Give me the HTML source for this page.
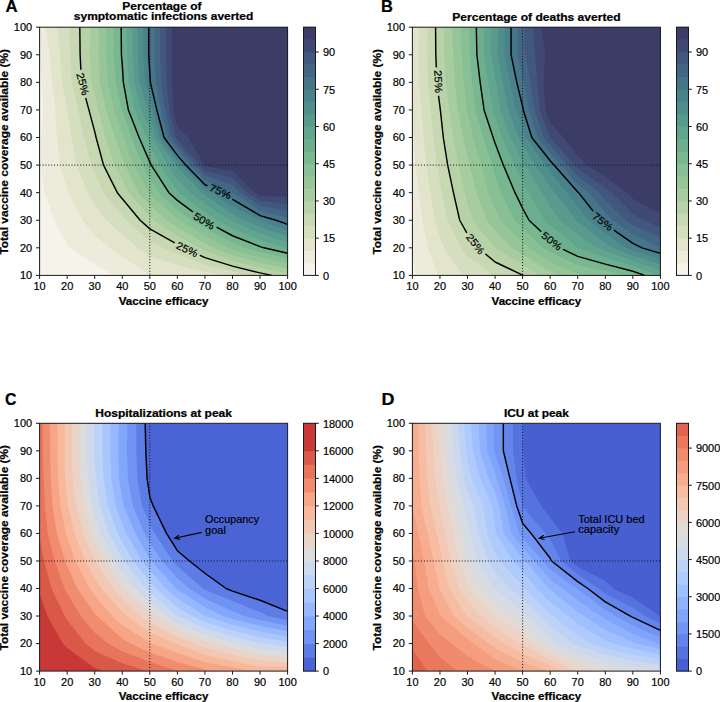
<!DOCTYPE html><html><head><meta charset="utf-8"><style>html,body{margin:0;padding:0;background:#fff;}svg{display:block;font-family:"Liberation Sans", sans-serif;}</style></head><body><svg width="720" height="702" viewBox="0 0 720 702">
<clipPath id="clipA"><rect x="39.60" y="27.20" width="248.00" height="248.20"/></clipPath>
<g clip-path="url(#clipA)">
<rect x="39.60" y="27.20" width="248.00" height="248.20" fill="#f6f3ea"/>
<path d="M94.71 263.99L113.80 275.40L122.27 275.40L149.82 275.40L177.38 275.40L204.93 275.40L232.49 275.40L260.04 275.40L287.60 275.40L287.60 247.82L287.60 220.24L287.60 192.67L287.60 165.09L287.60 137.51L287.60 109.93L287.60 82.36L287.60 54.78L287.60 27.20L260.04 27.20L232.49 27.20L204.93 27.20L177.38 27.20L149.82 27.20L122.27 27.20L94.71 27.20L67.16 27.20L39.60 27.20L39.60 54.78L39.60 57.88L42.06 82.36L43.12 109.93L41.45 137.51L40.71 165.09L44.63 192.67L54.13 220.24L67.16 244.26L69.82 247.82Z" fill="#edebdb"/>
<path d="M122.27 256.51L149.82 275.10L154.16 275.40L177.38 275.40L204.93 275.40L232.49 275.40L260.04 275.40L287.60 275.40L287.60 247.82L287.60 220.24L287.60 192.67L287.60 165.09L287.60 137.51L287.60 109.93L287.60 82.36L287.60 54.78L287.60 27.20L260.04 27.20L232.49 27.20L204.93 27.20L177.38 27.20L149.82 27.20L122.27 27.20L94.71 27.20L67.16 27.20L45.33 27.20L49.71 54.78L51.99 82.36L55.27 109.93L56.88 137.51L60.05 165.09L67.16 188.90L68.28 192.67L82.41 220.24L94.71 234.91L109.00 247.82Z" fill="#e2e4cc"/>
<path d="M149.82 256.62L177.38 265.32L204.93 271.66L222.57 275.40L232.49 275.40L260.04 275.40L287.60 275.40L287.60 247.82L287.60 220.24L287.60 192.67L287.60 165.09L287.60 137.51L287.60 109.93L287.60 82.36L287.60 54.78L287.60 27.20L260.04 27.20L232.49 27.20L204.93 27.20L177.38 27.20L149.82 27.20L122.27 27.20L94.71 27.20L67.16 27.20L57.38 27.20L60.15 54.78L61.91 82.36L67.16 108.86L67.39 109.93L71.36 137.51L76.67 165.09L87.61 192.67L94.71 203.80L106.57 220.24L122.27 234.97L137.92 247.82Z" fill="#d5debe"/>
<path d="M177.38 254.26L204.93 264.67L232.49 271.57L248.27 275.40L260.04 275.40L287.60 275.40L287.60 247.82L287.60 220.24L287.60 192.67L287.60 165.09L287.60 137.51L287.60 109.93L287.60 82.36L287.60 54.78L287.60 27.20L260.04 27.20L232.49 27.20L204.93 27.20L177.38 27.20L149.82 27.20L122.27 27.20L94.71 27.20L69.16 27.20L70.36 54.78L71.76 82.36L78.15 109.93L83.96 137.51L91.71 165.09L94.71 171.70L103.47 192.67L122.27 215.49L126.20 220.24L149.82 241.31L162.87 247.82Z" fill="#c7d8b2"/>
<path d="M204.93 257.67L232.49 266.10L260.04 272.91L271.84 275.40L287.60 275.40L287.60 247.82L287.60 220.24L287.60 192.67L287.60 165.09L287.60 137.51L287.60 109.93L287.60 82.36L287.60 54.78L287.60 27.20L260.04 27.20L232.49 27.20L204.93 27.20L177.38 27.20L149.82 27.20L122.27 27.20L94.71 27.20L79.81 27.20L80.11 54.78L81.51 82.36L88.91 109.93L94.71 131.62L96.09 137.51L103.53 165.09L117.30 192.67L122.27 198.69L140.13 220.24L149.82 228.89L177.38 244.28L183.68 247.82Z" fill="#b7d2a7"/>
<path d="M204.93 250.68L232.49 260.63L260.04 267.71L287.60 273.57L287.60 247.82L287.60 220.24L287.60 192.67L287.60 165.09L287.60 137.51L287.60 109.93L287.60 82.36L287.60 54.78L287.60 27.20L260.04 27.20L232.49 27.20L204.93 27.20L177.38 27.20L149.82 27.20L122.27 27.20L94.71 27.20L90.46 27.20L89.85 54.78L91.26 82.36L94.71 94.34L98.31 109.93L105.46 137.51L114.55 165.09L122.27 179.49L128.68 192.67L149.82 216.78L153.75 220.24L177.38 235.78L198.77 247.82Z" fill="#a7cc9f"/>
<path d="M232.49 255.15L260.04 262.51L287.60 268.51L287.60 247.82L287.60 220.24L287.60 192.67L287.60 165.09L287.60 137.51L287.60 109.93L287.60 82.36L287.60 54.78L287.60 27.20L260.04 27.20L232.49 27.20L204.93 27.20L177.38 27.20L149.82 27.20L122.27 27.20L99.12 27.20L98.53 54.78L99.88 82.36L106.12 109.93L114.84 137.51L122.27 157.52L124.90 165.09L138.68 192.67L149.82 205.37L166.68 220.24L177.38 227.28L204.93 243.37L213.38 247.82Z" fill="#96c598"/>
<path d="M232.49 249.68L260.04 257.31L287.60 263.45L287.60 247.82L287.60 220.24L287.60 192.67L287.60 165.09L287.60 137.51L287.60 109.93L287.60 82.36L287.60 54.78L287.60 27.20L260.04 27.20L232.49 27.20L204.93 27.20L177.38 27.20L149.82 27.20L122.27 27.20L106.47 27.20L106.16 54.78L107.88 82.36L113.94 109.93L122.27 133.00L123.85 137.51L133.71 165.09L148.68 192.67L149.82 193.97L177.38 218.67L179.49 220.24L204.93 235.84L227.65 247.82Z" fill="#89bf94"/>
<path d="M260.04 252.11L287.60 258.39L287.60 247.82L287.60 220.24L287.60 192.67L287.60 165.09L287.60 137.51L287.60 109.93L287.60 82.36L287.60 54.78L287.60 27.20L260.04 27.20L232.49 27.20L204.93 27.20L177.38 27.20L149.82 27.20L122.27 27.20L113.81 27.20L113.80 54.78L115.88 82.36L121.75 109.93L122.27 111.37L131.48 137.51L142.51 165.09L149.82 178.43L158.78 192.67L177.38 209.51L191.77 220.24L204.93 228.31L232.49 243.02L244.75 247.82Z" fill="#79b790"/>
<path d="M287.60 253.33L287.60 247.82L287.60 220.24L287.60 192.67L287.60 165.09L287.60 137.51L287.60 109.93L287.60 82.36L287.60 54.78L287.60 27.20L260.04 27.20L232.49 27.20L204.93 27.20L177.38 27.20L149.82 27.20L122.27 27.20L121.15 27.20L121.43 54.78L122.27 64.50L123.36 82.36L128.35 109.93L139.10 137.51L149.82 162.13L151.22 165.09L168.88 192.67L177.38 200.36L204.05 220.24L204.93 220.79L232.49 235.76L260.04 246.68L263.87 247.82Z" fill="#6dae8f"/>
<path d="M287.60 248.27L287.60 247.82L287.60 220.24L287.60 192.67L287.60 165.09L287.60 137.51L287.60 109.93L287.60 82.36L287.60 54.78L287.60 27.20L260.04 27.20L232.49 27.20L204.93 27.20L177.38 27.20L149.82 27.20L126.89 27.20L127.08 54.78L128.76 82.36L134.86 109.93L146.72 137.51L149.82 144.63L159.46 165.09L177.38 190.78L179.15 192.67L204.93 212.34L217.33 220.24L232.49 228.49L260.04 240.16L285.66 247.82Z" fill="#61a58e"/>
<path d="M232.49 221.23L260.04 233.65L287.60 242.36L287.60 220.24L287.60 192.67L287.60 165.09L287.60 137.51L287.60 109.93L287.60 82.36L287.60 54.78L287.60 27.20L260.04 27.20L232.49 27.20L204.93 27.20L177.38 27.20L149.82 27.20L132.35 27.20L132.48 54.78L134.16 82.36L141.37 109.93L149.82 128.86L152.17 137.51L167.70 165.09L177.38 178.97L190.30 192.67L204.93 203.83L230.68 220.24Z" fill="#589a8d"/>
<path d="M260.04 227.14L287.60 236.37L287.60 220.24L287.60 192.67L287.60 165.09L287.60 137.51L287.60 109.93L287.60 82.36L287.60 54.78L287.60 27.20L260.04 27.20L232.49 27.20L204.93 27.20L177.38 27.20L149.82 27.20L137.80 27.20L137.89 54.78L139.56 82.36L147.88 109.93L149.82 114.28L156.14 137.51L175.94 165.09L177.38 167.15L201.45 192.67L204.93 195.32L232.49 213.94L244.88 220.24Z" fill="#4f8e8d"/>
<path d="M260.04 220.62L287.60 230.38L287.60 220.24L287.60 192.67L287.60 165.09L287.60 137.51L287.60 109.93L287.60 82.36L287.60 54.78L287.60 27.20L260.04 27.20L232.49 27.20L204.93 27.20L177.38 27.20L149.82 27.20L143.25 27.20L143.29 54.78L144.97 82.36L149.82 97.84L152.71 109.93L160.10 137.51L177.38 160.70L181.16 165.09L204.93 189.44L212.21 192.67L232.49 206.65L259.21 220.24Z" fill="#4a828c"/>
<path d="M287.60 224.39L287.60 220.24L287.60 192.67L287.60 165.09L287.60 137.51L287.60 109.93L287.60 82.36L287.60 54.78L287.60 27.20L260.04 27.20L232.49 27.20L204.93 27.20L177.38 27.20L149.82 27.20L148.70 27.20L148.70 54.78L149.82 73.33L150.37 82.36L156.82 109.93L164.07 137.51L177.38 155.37L185.75 165.09L204.93 184.74L222.78 192.67L232.49 199.36L260.04 215.59L275.93 220.24Z" fill="#46758a"/>
<path d="M260.04 210.65L287.60 218.07L287.60 192.67L287.60 165.09L287.60 137.51L287.60 109.93L287.60 82.36L287.60 54.78L287.60 27.20L260.04 27.20L232.49 27.20L204.93 27.20L177.38 27.20L154.46 27.20L154.45 54.78L155.77 82.36L160.93 109.93L168.03 137.51L177.38 150.05L190.33 165.09L204.93 180.04L232.49 192.09L233.09 192.67Z" fill="#436685"/>
<path d="M260.04 205.71L287.60 210.98L287.60 192.67L287.60 165.09L287.60 137.51L287.60 109.93L287.60 82.36L287.60 54.78L287.60 27.20L260.04 27.20L232.49 27.20L204.93 27.20L177.38 27.20L160.29 27.20L160.29 54.78L161.17 82.36L165.04 109.93L172.00 137.51L177.38 144.73L194.92 165.09L204.93 175.35L232.49 185.05L240.50 192.67Z" fill="#41577d"/>
<path d="M260.04 200.77L287.60 203.90L287.60 192.67L287.60 165.09L287.60 137.51L287.60 109.93L287.60 82.36L287.60 54.78L287.60 27.20L260.04 27.20L232.49 27.20L204.93 27.20L177.38 27.20L166.12 27.20L166.13 54.78L166.57 82.36L169.16 109.93L175.96 137.51L177.38 139.41L199.50 165.09L204.93 170.65L232.49 178.00L247.90 192.67Z" fill="#3f4973"/>
<path d="M260.04 195.83L287.60 196.81L287.60 192.67L287.60 165.09L287.60 137.51L287.60 109.93L287.60 82.36L287.60 54.78L287.60 27.20L260.04 27.20L232.49 27.20L204.93 27.20L177.38 27.20L171.95 27.20L171.96 54.78L171.98 82.36L173.27 109.93L177.38 126.71L188.17 137.51L204.09 165.09L204.93 165.95L232.49 170.96L255.31 192.67Z" fill="#3c3d67"/>
<line x1="149.82" y1="27.20" x2="149.82" y2="275.40" stroke="#111" stroke-width="1" stroke-dasharray="1 1.9"/>
<line x1="39.60" y1="165.09" x2="287.60" y2="165.09" stroke="#111" stroke-width="1" stroke-dasharray="1 1.9"/>
<mask id="maskA" maskUnits="userSpaceOnUse" x="0" y="0" width="720" height="702"><rect x="0" y="0" width="720" height="702" fill="#fff"/><rect x="68.60" y="78.00" width="28.40" height="12.00" fill="#000" transform="rotate(74.98 82.80 84.00)"/><rect x="206.30" y="185.50" width="28.00" height="12.00" fill="#000" transform="rotate(23.95 220.30 191.50)"/><rect x="190.00" y="215.00" width="28.00" height="12.00" fill="#000" transform="rotate(31.51 204.00 221.00)"/><rect x="173.10" y="243.40" width="28.00" height="12.00" fill="#000" transform="rotate(24.86 187.10 249.40)"/></mask>
<g mask="url(#maskA)">
<path d="M79.81 27.20 L80.11 54.78 L81.51 82.36 L88.91 109.93 L94.71 131.62 L96.09 137.51 L103.53 165.09 L117.30 192.67 L122.27 198.69 L140.13 220.24 L149.82 228.89 L177.38 244.28 L183.68 247.82 L204.93 257.67 L232.49 266.10 L260.04 272.91 L271.84 275.40" fill="none" stroke="#000" stroke-width="1.45" stroke-linejoin="round"/>
<path d="M121.15 27.20 L121.43 54.78 L122.27 64.50 L123.36 82.36 L128.35 109.93 L139.10 137.51 L149.82 162.13 L151.22 165.09 L168.88 192.67 L177.38 200.36 L204.05 220.24 L204.93 220.79 L232.49 235.76 L260.04 246.68 L263.87 247.82 L287.60 253.33" fill="none" stroke="#000" stroke-width="1.45" stroke-linejoin="round"/>
<path d="M148.70 27.20 L148.70 54.78 L149.82 73.33 L150.37 82.36 L156.82 109.93 L164.07 137.51 L177.38 155.37 L185.75 165.09 L204.93 184.74 L222.78 192.67 L232.49 199.36 L260.04 215.59 L275.93 220.24 L287.60 224.39" fill="none" stroke="#000" stroke-width="1.45" stroke-linejoin="round"/>
</g>
</g>
<g transform="translate(82.80 84.00) rotate(74.98)"><text x="0.00" y="3.70" font-size="10.50" stroke="#000" stroke-width="0.18" text-anchor="middle" textLength="22.67" lengthAdjust="spacingAndGlyphs">25%</text></g>
<g transform="translate(220.30 191.50) rotate(23.95)"><text x="0.00" y="3.70" font-size="10.50" stroke="#000" stroke-width="0.18" text-anchor="middle" textLength="22.67" lengthAdjust="spacingAndGlyphs">75%</text></g>
<g transform="translate(204.00 221.00) rotate(31.51)"><text x="0.00" y="3.70" font-size="10.50" stroke="#000" stroke-width="0.18" text-anchor="middle" textLength="22.67" lengthAdjust="spacingAndGlyphs">50%</text></g>
<g transform="translate(187.10 249.40) rotate(24.86)"><text x="0.00" y="3.70" font-size="10.50" stroke="#000" stroke-width="0.18" text-anchor="middle" textLength="22.67" lengthAdjust="spacingAndGlyphs">25%</text></g>
<rect x="39.60" y="27.20" width="248.00" height="248.20" fill="none" stroke="#1a1a1a" stroke-width="1"/>
<line x1="39.60" y1="275.40" x2="39.60" y2="278.90" stroke="#1a1a1a" stroke-width="1"/>
<line x1="36.00" y1="275.40" x2="39.60" y2="275.40" stroke="#1a1a1a" stroke-width="1"/>
<text x="39.60" y="290.20" font-size="10.20" stroke="#000" stroke-width="0.18" text-anchor="middle" textLength="12.22" lengthAdjust="spacingAndGlyphs">10</text>
<text x="32.20" y="279.30" font-size="10.20" stroke="#000" stroke-width="0.18" text-anchor="end" textLength="12.22" lengthAdjust="spacingAndGlyphs">10</text>
<line x1="67.16" y1="275.40" x2="67.16" y2="278.90" stroke="#1a1a1a" stroke-width="1"/>
<line x1="36.00" y1="247.82" x2="39.60" y2="247.82" stroke="#1a1a1a" stroke-width="1"/>
<text x="67.16" y="290.20" font-size="10.20" stroke="#000" stroke-width="0.18" text-anchor="middle" textLength="12.22" lengthAdjust="spacingAndGlyphs">20</text>
<text x="32.20" y="251.72" font-size="10.20" stroke="#000" stroke-width="0.18" text-anchor="end" textLength="12.22" lengthAdjust="spacingAndGlyphs">20</text>
<line x1="94.71" y1="275.40" x2="94.71" y2="278.90" stroke="#1a1a1a" stroke-width="1"/>
<line x1="36.00" y1="220.24" x2="39.60" y2="220.24" stroke="#1a1a1a" stroke-width="1"/>
<text x="94.71" y="290.20" font-size="10.20" stroke="#000" stroke-width="0.18" text-anchor="middle" textLength="12.22" lengthAdjust="spacingAndGlyphs">30</text>
<text x="32.20" y="224.14" font-size="10.20" stroke="#000" stroke-width="0.18" text-anchor="end" textLength="12.22" lengthAdjust="spacingAndGlyphs">30</text>
<line x1="122.27" y1="275.40" x2="122.27" y2="278.90" stroke="#1a1a1a" stroke-width="1"/>
<line x1="36.00" y1="192.67" x2="39.60" y2="192.67" stroke="#1a1a1a" stroke-width="1"/>
<text x="122.27" y="290.20" font-size="10.20" stroke="#000" stroke-width="0.18" text-anchor="middle" textLength="12.22" lengthAdjust="spacingAndGlyphs">40</text>
<text x="32.20" y="196.57" font-size="10.20" stroke="#000" stroke-width="0.18" text-anchor="end" textLength="12.22" lengthAdjust="spacingAndGlyphs">40</text>
<line x1="149.82" y1="275.40" x2="149.82" y2="278.90" stroke="#1a1a1a" stroke-width="1"/>
<line x1="36.00" y1="165.09" x2="39.60" y2="165.09" stroke="#1a1a1a" stroke-width="1"/>
<text x="149.82" y="290.20" font-size="10.20" stroke="#000" stroke-width="0.18" text-anchor="middle" textLength="12.22" lengthAdjust="spacingAndGlyphs">50</text>
<text x="32.20" y="168.99" font-size="10.20" stroke="#000" stroke-width="0.18" text-anchor="end" textLength="12.22" lengthAdjust="spacingAndGlyphs">50</text>
<line x1="177.38" y1="275.40" x2="177.38" y2="278.90" stroke="#1a1a1a" stroke-width="1"/>
<line x1="36.00" y1="137.51" x2="39.60" y2="137.51" stroke="#1a1a1a" stroke-width="1"/>
<text x="177.38" y="290.20" font-size="10.20" stroke="#000" stroke-width="0.18" text-anchor="middle" textLength="12.22" lengthAdjust="spacingAndGlyphs">60</text>
<text x="32.20" y="141.41" font-size="10.20" stroke="#000" stroke-width="0.18" text-anchor="end" textLength="12.22" lengthAdjust="spacingAndGlyphs">60</text>
<line x1="204.93" y1="275.40" x2="204.93" y2="278.90" stroke="#1a1a1a" stroke-width="1"/>
<line x1="36.00" y1="109.93" x2="39.60" y2="109.93" stroke="#1a1a1a" stroke-width="1"/>
<text x="204.93" y="290.20" font-size="10.20" stroke="#000" stroke-width="0.18" text-anchor="middle" textLength="12.22" lengthAdjust="spacingAndGlyphs">70</text>
<text x="32.20" y="113.83" font-size="10.20" stroke="#000" stroke-width="0.18" text-anchor="end" textLength="12.22" lengthAdjust="spacingAndGlyphs">70</text>
<line x1="232.49" y1="275.40" x2="232.49" y2="278.90" stroke="#1a1a1a" stroke-width="1"/>
<line x1="36.00" y1="82.36" x2="39.60" y2="82.36" stroke="#1a1a1a" stroke-width="1"/>
<text x="232.49" y="290.20" font-size="10.20" stroke="#000" stroke-width="0.18" text-anchor="middle" textLength="12.22" lengthAdjust="spacingAndGlyphs">80</text>
<text x="32.20" y="86.26" font-size="10.20" stroke="#000" stroke-width="0.18" text-anchor="end" textLength="12.22" lengthAdjust="spacingAndGlyphs">80</text>
<line x1="260.04" y1="275.40" x2="260.04" y2="278.90" stroke="#1a1a1a" stroke-width="1"/>
<line x1="36.00" y1="54.78" x2="39.60" y2="54.78" stroke="#1a1a1a" stroke-width="1"/>
<text x="260.04" y="290.20" font-size="10.20" stroke="#000" stroke-width="0.18" text-anchor="middle" textLength="12.22" lengthAdjust="spacingAndGlyphs">90</text>
<text x="32.20" y="58.68" font-size="10.20" stroke="#000" stroke-width="0.18" text-anchor="end" textLength="12.22" lengthAdjust="spacingAndGlyphs">90</text>
<line x1="287.60" y1="275.40" x2="287.60" y2="278.90" stroke="#1a1a1a" stroke-width="1"/>
<line x1="36.00" y1="27.20" x2="39.60" y2="27.20" stroke="#1a1a1a" stroke-width="1"/>
<text x="287.60" y="290.20" font-size="10.20" stroke="#000" stroke-width="0.18" text-anchor="middle" textLength="18.32" lengthAdjust="spacingAndGlyphs">100</text>
<text x="32.20" y="31.10" font-size="10.20" stroke="#000" stroke-width="0.18" text-anchor="end" textLength="18.32" lengthAdjust="spacingAndGlyphs">100</text>
<text x="163.60" y="304.50" font-size="10.40" font-weight="bold" stroke="#000" stroke-width="0.22" text-anchor="middle" textLength="89.67" lengthAdjust="spacingAndGlyphs">Vaccine efficacy</text>
<text x="8.30" y="151.80" font-size="10.40" font-weight="bold" stroke="#000" stroke-width="0.22" text-anchor="middle" textLength="205.57" lengthAdjust="spacingAndGlyphs" transform="rotate(-90.00 8.30 151.80)">Total vaccine coverage available (%)</text>
<text x="161.90" y="10.00" font-size="10.40" font-weight="bold" stroke="#000" stroke-width="0.22" text-anchor="middle" textLength="79.04" lengthAdjust="spacingAndGlyphs">Percentage of</text>
<text x="163.60" y="20.30" font-size="10.40" font-weight="bold" stroke="#000" stroke-width="0.22" text-anchor="middle" textLength="179.43" lengthAdjust="spacingAndGlyphs">symptomatic infections averted</text>
<rect x="303.50" y="262.69" width="12.00" height="13.01" fill="#f6f3ea"/>
<rect x="303.50" y="250.28" width="12.00" height="13.01" fill="#edebdb"/>
<rect x="303.50" y="237.87" width="12.00" height="13.01" fill="#e2e4cc"/>
<rect x="303.50" y="225.46" width="12.00" height="13.01" fill="#d5debe"/>
<rect x="303.50" y="213.05" width="12.00" height="13.01" fill="#c7d8b2"/>
<rect x="303.50" y="200.64" width="12.00" height="13.01" fill="#b7d2a7"/>
<rect x="303.50" y="188.23" width="12.00" height="13.01" fill="#a7cc9f"/>
<rect x="303.50" y="175.82" width="12.00" height="13.01" fill="#96c598"/>
<rect x="303.50" y="163.41" width="12.00" height="13.01" fill="#89bf94"/>
<rect x="303.50" y="151.00" width="12.00" height="13.01" fill="#79b790"/>
<rect x="303.50" y="138.59" width="12.00" height="13.01" fill="#6dae8f"/>
<rect x="303.50" y="126.18" width="12.00" height="13.01" fill="#61a58e"/>
<rect x="303.50" y="113.77" width="12.00" height="13.01" fill="#589a8d"/>
<rect x="303.50" y="101.36" width="12.00" height="13.01" fill="#4f8e8d"/>
<rect x="303.50" y="88.95" width="12.00" height="13.01" fill="#4a828c"/>
<rect x="303.50" y="76.54" width="12.00" height="13.01" fill="#46758a"/>
<rect x="303.50" y="64.13" width="12.00" height="13.01" fill="#436685"/>
<rect x="303.50" y="51.72" width="12.00" height="13.01" fill="#41577d"/>
<rect x="303.50" y="39.31" width="12.00" height="13.01" fill="#3f4973"/>
<rect x="303.50" y="26.90" width="12.00" height="13.01" fill="#3c3d67"/>
<rect x="303.50" y="27.20" width="12.00" height="248.20" fill="none" stroke="#1a1a1a" stroke-width="1"/>
<line x1="315.50" y1="275.40" x2="318.80" y2="275.40" stroke="#1a1a1a" stroke-width="1"/>
<text x="322.90" y="279.70" font-size="10.20" stroke="#000" stroke-width="0.18" textLength="6.11" lengthAdjust="spacingAndGlyphs">0</text>
<line x1="315.50" y1="238.17" x2="318.80" y2="238.17" stroke="#1a1a1a" stroke-width="1"/>
<text x="322.90" y="242.47" font-size="10.20" stroke="#000" stroke-width="0.18" textLength="12.22" lengthAdjust="spacingAndGlyphs">15</text>
<line x1="315.50" y1="200.94" x2="318.80" y2="200.94" stroke="#1a1a1a" stroke-width="1"/>
<text x="322.90" y="205.24" font-size="10.20" stroke="#000" stroke-width="0.18" textLength="12.22" lengthAdjust="spacingAndGlyphs">30</text>
<line x1="315.50" y1="163.71" x2="318.80" y2="163.71" stroke="#1a1a1a" stroke-width="1"/>
<text x="322.90" y="168.01" font-size="10.20" stroke="#000" stroke-width="0.18" textLength="12.22" lengthAdjust="spacingAndGlyphs">45</text>
<line x1="315.50" y1="126.48" x2="318.80" y2="126.48" stroke="#1a1a1a" stroke-width="1"/>
<text x="322.90" y="130.78" font-size="10.20" stroke="#000" stroke-width="0.18" textLength="12.22" lengthAdjust="spacingAndGlyphs">60</text>
<line x1="315.50" y1="89.25" x2="318.80" y2="89.25" stroke="#1a1a1a" stroke-width="1"/>
<text x="322.90" y="93.55" font-size="10.20" stroke="#000" stroke-width="0.18" textLength="12.22" lengthAdjust="spacingAndGlyphs">75</text>
<line x1="315.50" y1="52.02" x2="318.80" y2="52.02" stroke="#1a1a1a" stroke-width="1"/>
<text x="322.90" y="56.32" font-size="10.20" stroke="#000" stroke-width="0.18" textLength="12.22" lengthAdjust="spacingAndGlyphs">90</text>
<clipPath id="clipB"><rect x="412.40" y="27.20" width="248.00" height="248.20"/></clipPath>
<g clip-path="url(#clipB)">
<rect x="412.40" y="27.20" width="248.00" height="248.20" fill="#f6f3ea"/>
<path d="M439.96 275.40L467.51 275.40L495.07 275.40L522.62 275.40L550.18 275.40L577.73 275.40L605.29 275.40L632.84 275.40L660.40 275.40L660.40 247.82L660.40 220.24L660.40 192.67L660.40 165.09L660.40 137.51L660.40 109.93L660.40 82.36L660.40 54.78L660.40 27.20L632.84 27.20L605.29 27.20L577.73 27.20L550.18 27.20L522.62 27.20L495.07 27.20L467.51 27.20L439.96 27.20L412.40 27.20L412.40 54.78L412.40 82.36L412.40 109.93L412.40 137.51L412.40 165.09L412.40 192.67L412.40 220.24L412.40 247.82L412.40 254.32L415.95 275.40Z" fill="#edebdb"/>
<path d="M439.96 275.40L467.51 275.40L495.07 275.40L522.62 275.40L550.18 275.40L577.73 275.40L605.29 275.40L632.84 275.40L660.40 275.40L660.40 247.82L660.40 220.24L660.40 192.67L660.40 165.09L660.40 137.51L660.40 109.93L660.40 82.36L660.40 54.78L660.40 27.20L632.84 27.20L605.29 27.20L577.73 27.20L550.18 27.20L522.62 27.20L495.07 27.20L467.51 27.20L439.96 27.20L412.40 27.20L412.40 54.78L412.40 82.36L412.40 109.93L412.40 119.38L413.54 137.51L415.74 165.09L418.90 192.67L422.22 220.24L427.73 247.82L438.00 275.40Z" fill="#e2e4cc"/>
<path d="M467.51 275.40L495.07 275.40L522.62 275.40L550.18 275.40L577.73 275.40L605.29 275.40L632.84 275.40L660.40 275.40L660.40 247.82L660.40 220.24L660.40 192.67L660.40 165.09L660.40 137.51L660.40 109.93L660.40 82.36L660.40 54.78L660.40 27.20L632.84 27.20L605.29 27.20L577.73 27.20L550.18 27.20L522.62 27.20L495.07 27.20L467.51 27.20L439.96 27.20L419.32 27.20L418.67 54.78L419.13 82.36L421.34 109.93L423.46 137.51L426.30 165.09L430.53 192.67L434.94 220.24L439.96 237.32L444.11 247.82L463.14 275.40Z" fill="#d5debe"/>
<path d="M467.51 256.28L493.34 275.40L495.07 275.40L522.62 275.40L550.18 275.40L577.73 275.40L605.29 275.40L632.84 275.40L660.40 275.40L660.40 247.82L660.40 220.24L660.40 192.67L660.40 165.09L660.40 137.51L660.40 109.93L660.40 82.36L660.40 54.78L660.40 27.20L632.84 27.20L605.29 27.20L577.73 27.20L550.18 27.20L522.62 27.20L495.07 27.20L467.51 27.20L439.96 27.20L427.44 27.20L427.24 54.78L427.96 82.36L430.86 109.93L433.37 137.51L436.86 165.09L439.96 181.80L442.11 192.67L447.42 220.24L461.24 247.82Z" fill="#c7d8b2"/>
<path d="M495.07 262.02L522.62 275.06L523.16 275.40L550.18 275.40L577.73 275.40L605.29 275.40L632.84 275.40L660.40 275.40L660.40 247.82L660.40 220.24L660.40 192.67L660.40 165.09L660.40 137.51L660.40 109.93L660.40 82.36L660.40 54.78L660.40 27.20L632.84 27.20L605.29 27.20L577.73 27.20L550.18 27.20L522.62 27.20L495.07 27.20L467.51 27.20L439.96 27.20L435.56 27.20L435.82 54.78L436.80 82.36L439.96 106.94L440.34 109.93L443.31 137.51L447.67 165.09L453.45 192.67L459.72 220.24L467.51 234.02L478.18 247.82Z" fill="#b7d2a7"/>
<path d="M495.07 247.86L522.62 264.78L539.52 275.40L550.18 275.40L577.73 275.40L605.29 275.40L632.84 275.40L660.40 275.40L660.40 247.82L660.40 220.24L660.40 192.67L660.40 165.09L660.40 137.51L660.40 109.93L660.40 82.36L660.40 54.78L660.40 27.20L632.84 27.20L605.29 27.20L577.73 27.20L550.18 27.20L522.62 27.20L495.07 27.20L467.51 27.20L443.82 27.20L444.44 54.78L445.75 82.36L449.15 109.93L453.28 137.51L458.59 165.09L464.78 192.67L467.51 203.60L472.69 220.24L495.03 247.82Z" fill="#a7cc9f"/>
<path d="M522.62 254.50L550.18 271.98L558.33 275.40L577.73 275.40L605.29 275.40L632.84 275.40L660.40 275.40L660.40 247.82L660.40 220.24L660.40 192.67L660.40 165.09L660.40 137.51L660.40 109.93L660.40 82.36L660.40 54.78L660.40 27.20L632.84 27.20L605.29 27.20L577.73 27.20L550.18 27.20L522.62 27.20L495.07 27.20L467.51 27.20L452.25 27.20L453.11 54.78L454.76 82.36L457.96 109.93L463.25 137.51L467.51 156.81L469.59 165.09L476.47 192.67L486.81 220.24L495.07 230.43L511.75 247.82Z" fill="#96c598"/>
<path d="M550.18 262.14L577.73 273.90L587.46 275.40L605.29 275.40L632.84 275.40L660.40 275.40L660.40 247.82L660.40 220.24L660.40 192.67L660.40 165.09L660.40 137.51L660.40 109.93L660.40 82.36L660.40 54.78L660.40 27.20L632.84 27.20L605.29 27.20L577.73 27.20L550.18 27.20L522.62 27.20L495.07 27.20L467.51 27.20L460.68 27.20L461.79 54.78L463.78 82.36L466.78 109.93L467.51 113.44L473.22 137.51L480.91 165.09L488.28 192.67L495.07 208.68L500.78 220.24L522.62 242.84L527.97 247.82Z" fill="#89bf94"/>
<path d="M550.18 252.30L577.73 265.16L605.29 270.83L626.28 275.40L632.84 275.40L660.40 275.40L660.40 247.82L660.40 220.24L660.40 192.67L660.40 165.09L660.40 137.51L660.40 109.93L660.40 82.36L660.40 54.78L660.40 27.20L632.84 27.20L605.29 27.20L577.73 27.20L550.18 27.20L522.62 27.20L495.07 27.20L468.92 27.20L469.89 54.78L472.19 82.36L475.43 109.93L483.18 137.51L492.24 165.09L495.07 175.30L501.02 192.67L514.55 220.24L522.62 228.60L543.23 247.82Z" fill="#79b790"/>
<path d="M577.73 256.42L605.29 264.17L632.84 271.31L644.69 275.40L660.40 275.40L660.40 247.82L660.40 220.24L660.40 192.67L660.40 165.09L660.40 137.51L660.40 109.93L660.40 82.36L660.40 54.78L660.40 27.20L632.84 27.20L605.29 27.20L577.73 27.20L550.18 27.20L522.62 27.20L495.07 27.20L476.32 27.20L476.87 54.78L480.18 82.36L484.06 109.93L493.14 137.51L495.07 143.17L503.32 165.09L515.02 192.67L522.62 208.32L529.02 220.24L550.18 239.97L559.99 247.82Z" fill="#6dae8f"/>
<path d="M605.29 257.50L632.84 266.09L659.77 275.40L660.40 275.40L660.40 247.82L660.40 220.24L660.40 192.67L660.40 165.09L660.40 137.51L660.40 109.93L660.40 82.36L660.40 54.78L660.40 27.20L632.84 27.20L605.29 27.20L577.73 27.20L550.18 27.20L522.62 27.20L495.07 27.20L483.73 27.20L483.85 54.78L488.17 82.36L492.70 109.93L495.07 116.93L501.82 137.51L514.33 165.09L522.62 182.25L528.70 192.67L544.49 220.24L550.18 225.54L577.73 247.62L578.03 247.82Z" fill="#61a58e"/>
<path d="M605.29 250.84L632.84 260.88L660.40 270.06L660.40 247.82L660.40 220.24L660.40 192.67L660.40 165.09L660.40 137.51L660.40 109.93L660.40 82.36L660.40 54.78L660.40 27.20L632.84 27.20L605.29 27.20L577.73 27.20L550.18 27.20L522.62 27.20L495.07 27.20L491.14 27.20L490.84 54.78L495.07 77.27L496.01 82.36L500.61 109.93L510.19 137.51L522.62 161.17L525.14 165.09L542.00 192.67L550.18 206.26L560.32 220.24L577.73 234.50L596.79 247.82Z" fill="#589a8d"/>
<path d="M632.84 255.67L660.40 264.48L660.40 247.82L660.40 220.24L660.40 192.67L660.40 165.09L660.40 137.51L660.40 109.93L660.40 82.36L660.40 54.78L660.40 27.20L632.84 27.20L605.29 27.20L577.73 27.20L550.18 27.20L522.62 27.20L498.10 27.20L497.70 54.78L502.94 82.36L508.26 109.93L518.56 137.51L522.62 145.23L535.40 165.09L550.18 186.86L554.77 192.67L576.35 220.24L577.73 221.38L605.29 242.74L612.63 247.82Z" fill="#4f8e8d"/>
<path d="M632.84 250.46L660.40 258.91L660.40 247.82L660.40 220.24L660.40 192.67L660.40 165.09L660.40 137.51L660.40 109.93L660.40 82.36L660.40 54.78L660.40 27.20L632.84 27.20L605.29 27.20L577.73 27.20L550.18 27.20L522.62 27.20L504.56 27.20L504.38 54.78L509.87 82.36L515.90 109.93L522.62 127.32L525.74 137.51L545.65 165.09L550.18 171.76L566.72 192.67L577.73 206.51L588.51 220.24L605.29 233.45L626.05 247.82Z" fill="#4a828c"/>
<path d="M660.40 253.33L660.40 247.82L660.40 220.24L660.40 192.67L660.40 165.09L660.40 137.51L660.40 109.93L660.40 82.36L660.40 54.78L660.40 27.20L632.84 27.20L605.29 27.20L577.73 27.20L550.18 27.20L522.62 27.20L511.02 27.20L511.07 54.78L516.80 82.36L522.62 106.49L523.29 109.93L531.79 137.51L550.18 160.81L553.98 165.09L577.73 192.06L578.55 192.67L600.31 220.24L605.29 224.16L632.84 243.36L642.02 247.82Z" fill="#46758a"/>
<path d="M632.84 234.32L660.40 247.71L660.40 220.24L660.40 192.67L660.40 165.09L660.40 137.51L660.40 109.93L660.40 82.36L660.40 54.78L660.40 27.20L632.84 27.20L605.29 27.20L577.73 27.20L550.18 27.20L522.62 27.20L517.49 27.20L517.75 54.78L522.62 77.41L523.68 82.36L528.83 109.93L537.83 137.51L550.18 153.15L560.80 165.09L577.73 184.32L588.94 192.67L605.29 212.83L612.75 220.24Z" fill="#436685"/>
<path d="M632.84 225.28L660.40 237.57L660.40 220.24L660.40 192.67L660.40 165.09L660.40 137.51L660.40 109.93L660.40 82.36L660.40 54.78L660.40 27.20L632.84 27.20L605.29 27.20L577.73 27.20L550.18 27.20L524.40 27.20L525.30 54.78L530.30 82.36L534.37 109.93L543.88 137.51L550.18 145.49L567.61 165.09L577.73 176.58L599.33 192.67L605.29 200.02L625.65 220.24Z" fill="#41577d"/>
<path d="M660.40 227.44L660.40 220.24L660.40 192.67L660.40 165.09L660.40 137.51L660.40 109.93L660.40 82.36L660.40 54.78L660.40 27.20L632.84 27.20L605.29 27.20L577.73 27.20L550.18 27.20L533.07 27.20L535.18 54.78L536.93 82.36L539.92 109.93L549.93 137.51L550.18 137.83L574.43 165.09L577.73 168.84L605.29 187.82L611.71 192.67L632.84 213.64L643.43 220.24Z" fill="#3f4973"/>
<path d="M632.84 198.71L660.40 214.05L660.40 192.67L660.40 165.09L660.40 137.51L660.40 109.93L660.40 82.36L660.40 54.78L660.40 27.20L632.84 27.20L605.29 27.20L577.73 27.20L550.18 27.20L541.73 27.20L545.06 54.78L543.55 82.36L545.46 109.93L550.18 122.90L563.67 137.51L577.73 155.71L587.10 165.09L605.29 176.45L626.75 192.67Z" fill="#3c3d67"/>
<line x1="522.62" y1="27.20" x2="522.62" y2="275.40" stroke="#111" stroke-width="1" stroke-dasharray="1 1.9"/>
<line x1="412.40" y1="165.09" x2="660.40" y2="165.09" stroke="#111" stroke-width="1" stroke-dasharray="1 1.9"/>
<mask id="maskB" maskUnits="userSpaceOnUse" x="0" y="0" width="720" height="702"><rect x="0" y="0" width="720" height="702" fill="#fff"/><rect x="424.10" y="75.50" width="28.40" height="12.00" fill="#000" transform="rotate(87.96 438.30 81.50)"/><rect x="461.40" y="237.90" width="28.00" height="12.00" fill="#000" transform="rotate(52.28 475.40 243.90)"/><rect x="537.70" y="235.00" width="28.00" height="12.00" fill="#000" transform="rotate(38.67 551.70 241.00)"/><rect x="588.70" y="215.60" width="28.00" height="12.00" fill="#000" transform="rotate(38.22 602.70 221.60)"/></mask>
<g mask="url(#maskB)">
<path d="M435.56 27.20 L435.82 54.78 L436.80 82.36 L439.96 106.94 L440.34 109.93 L443.31 137.51 L447.67 165.09 L453.45 192.67 L459.72 220.24 L467.51 234.02 L478.18 247.82 L495.07 262.02 L522.62 275.06 L523.16 275.40" fill="none" stroke="#000" stroke-width="1.45" stroke-linejoin="round"/>
<path d="M476.32 27.20 L476.87 54.78 L480.18 82.36 L484.06 109.93 L493.14 137.51 L495.07 143.17 L503.32 165.09 L515.02 192.67 L522.62 208.32 L529.02 220.24 L550.18 239.97 L559.99 247.82 L577.73 256.42 L605.29 264.17 L632.84 271.31 L644.69 275.40" fill="none" stroke="#000" stroke-width="1.45" stroke-linejoin="round"/>
<path d="M511.02 27.20 L511.07 54.78 L516.80 82.36 L522.62 106.49 L523.29 109.93 L531.79 137.51 L550.18 160.81 L553.98 165.09 L577.73 192.06 L578.55 192.67 L600.31 220.24 L605.29 224.16 L632.84 243.36 L642.02 247.82 L660.40 253.33" fill="none" stroke="#000" stroke-width="1.45" stroke-linejoin="round"/>
</g>
</g>
<g transform="translate(438.30 81.50) rotate(87.96)"><text x="0.00" y="3.70" font-size="10.50" stroke="#000" stroke-width="0.18" text-anchor="middle" textLength="22.67" lengthAdjust="spacingAndGlyphs">25%</text></g>
<g transform="translate(475.40 243.90) rotate(52.28)"><text x="0.00" y="3.70" font-size="10.50" stroke="#000" stroke-width="0.18" text-anchor="middle" textLength="22.67" lengthAdjust="spacingAndGlyphs">25%</text></g>
<g transform="translate(551.70 241.00) rotate(38.67)"><text x="0.00" y="3.70" font-size="10.50" stroke="#000" stroke-width="0.18" text-anchor="middle" textLength="22.67" lengthAdjust="spacingAndGlyphs">50%</text></g>
<g transform="translate(602.70 221.60) rotate(38.22)"><text x="0.00" y="3.70" font-size="10.50" stroke="#000" stroke-width="0.18" text-anchor="middle" textLength="22.67" lengthAdjust="spacingAndGlyphs">75%</text></g>
<rect x="412.40" y="27.20" width="248.00" height="248.20" fill="none" stroke="#1a1a1a" stroke-width="1"/>
<line x1="412.40" y1="275.40" x2="412.40" y2="278.90" stroke="#1a1a1a" stroke-width="1"/>
<line x1="408.80" y1="275.40" x2="412.40" y2="275.40" stroke="#1a1a1a" stroke-width="1"/>
<text x="412.40" y="290.20" font-size="10.20" stroke="#000" stroke-width="0.18" text-anchor="middle" textLength="12.22" lengthAdjust="spacingAndGlyphs">10</text>
<text x="405.00" y="279.30" font-size="10.20" stroke="#000" stroke-width="0.18" text-anchor="end" textLength="12.22" lengthAdjust="spacingAndGlyphs">10</text>
<line x1="439.96" y1="275.40" x2="439.96" y2="278.90" stroke="#1a1a1a" stroke-width="1"/>
<line x1="408.80" y1="247.82" x2="412.40" y2="247.82" stroke="#1a1a1a" stroke-width="1"/>
<text x="439.96" y="290.20" font-size="10.20" stroke="#000" stroke-width="0.18" text-anchor="middle" textLength="12.22" lengthAdjust="spacingAndGlyphs">20</text>
<text x="405.00" y="251.72" font-size="10.20" stroke="#000" stroke-width="0.18" text-anchor="end" textLength="12.22" lengthAdjust="spacingAndGlyphs">20</text>
<line x1="467.51" y1="275.40" x2="467.51" y2="278.90" stroke="#1a1a1a" stroke-width="1"/>
<line x1="408.80" y1="220.24" x2="412.40" y2="220.24" stroke="#1a1a1a" stroke-width="1"/>
<text x="467.51" y="290.20" font-size="10.20" stroke="#000" stroke-width="0.18" text-anchor="middle" textLength="12.22" lengthAdjust="spacingAndGlyphs">30</text>
<text x="405.00" y="224.14" font-size="10.20" stroke="#000" stroke-width="0.18" text-anchor="end" textLength="12.22" lengthAdjust="spacingAndGlyphs">30</text>
<line x1="495.07" y1="275.40" x2="495.07" y2="278.90" stroke="#1a1a1a" stroke-width="1"/>
<line x1="408.80" y1="192.67" x2="412.40" y2="192.67" stroke="#1a1a1a" stroke-width="1"/>
<text x="495.07" y="290.20" font-size="10.20" stroke="#000" stroke-width="0.18" text-anchor="middle" textLength="12.22" lengthAdjust="spacingAndGlyphs">40</text>
<text x="405.00" y="196.57" font-size="10.20" stroke="#000" stroke-width="0.18" text-anchor="end" textLength="12.22" lengthAdjust="spacingAndGlyphs">40</text>
<line x1="522.62" y1="275.40" x2="522.62" y2="278.90" stroke="#1a1a1a" stroke-width="1"/>
<line x1="408.80" y1="165.09" x2="412.40" y2="165.09" stroke="#1a1a1a" stroke-width="1"/>
<text x="522.62" y="290.20" font-size="10.20" stroke="#000" stroke-width="0.18" text-anchor="middle" textLength="12.22" lengthAdjust="spacingAndGlyphs">50</text>
<text x="405.00" y="168.99" font-size="10.20" stroke="#000" stroke-width="0.18" text-anchor="end" textLength="12.22" lengthAdjust="spacingAndGlyphs">50</text>
<line x1="550.18" y1="275.40" x2="550.18" y2="278.90" stroke="#1a1a1a" stroke-width="1"/>
<line x1="408.80" y1="137.51" x2="412.40" y2="137.51" stroke="#1a1a1a" stroke-width="1"/>
<text x="550.18" y="290.20" font-size="10.20" stroke="#000" stroke-width="0.18" text-anchor="middle" textLength="12.22" lengthAdjust="spacingAndGlyphs">60</text>
<text x="405.00" y="141.41" font-size="10.20" stroke="#000" stroke-width="0.18" text-anchor="end" textLength="12.22" lengthAdjust="spacingAndGlyphs">60</text>
<line x1="577.73" y1="275.40" x2="577.73" y2="278.90" stroke="#1a1a1a" stroke-width="1"/>
<line x1="408.80" y1="109.93" x2="412.40" y2="109.93" stroke="#1a1a1a" stroke-width="1"/>
<text x="577.73" y="290.20" font-size="10.20" stroke="#000" stroke-width="0.18" text-anchor="middle" textLength="12.22" lengthAdjust="spacingAndGlyphs">70</text>
<text x="405.00" y="113.83" font-size="10.20" stroke="#000" stroke-width="0.18" text-anchor="end" textLength="12.22" lengthAdjust="spacingAndGlyphs">70</text>
<line x1="605.29" y1="275.40" x2="605.29" y2="278.90" stroke="#1a1a1a" stroke-width="1"/>
<line x1="408.80" y1="82.36" x2="412.40" y2="82.36" stroke="#1a1a1a" stroke-width="1"/>
<text x="605.29" y="290.20" font-size="10.20" stroke="#000" stroke-width="0.18" text-anchor="middle" textLength="12.22" lengthAdjust="spacingAndGlyphs">80</text>
<text x="405.00" y="86.26" font-size="10.20" stroke="#000" stroke-width="0.18" text-anchor="end" textLength="12.22" lengthAdjust="spacingAndGlyphs">80</text>
<line x1="632.84" y1="275.40" x2="632.84" y2="278.90" stroke="#1a1a1a" stroke-width="1"/>
<line x1="408.80" y1="54.78" x2="412.40" y2="54.78" stroke="#1a1a1a" stroke-width="1"/>
<text x="632.84" y="290.20" font-size="10.20" stroke="#000" stroke-width="0.18" text-anchor="middle" textLength="12.22" lengthAdjust="spacingAndGlyphs">90</text>
<text x="405.00" y="58.68" font-size="10.20" stroke="#000" stroke-width="0.18" text-anchor="end" textLength="12.22" lengthAdjust="spacingAndGlyphs">90</text>
<line x1="660.40" y1="275.40" x2="660.40" y2="278.90" stroke="#1a1a1a" stroke-width="1"/>
<line x1="408.80" y1="27.20" x2="412.40" y2="27.20" stroke="#1a1a1a" stroke-width="1"/>
<text x="660.40" y="290.20" font-size="10.20" stroke="#000" stroke-width="0.18" text-anchor="middle" textLength="18.32" lengthAdjust="spacingAndGlyphs">100</text>
<text x="405.00" y="31.10" font-size="10.20" stroke="#000" stroke-width="0.18" text-anchor="end" textLength="18.32" lengthAdjust="spacingAndGlyphs">100</text>
<text x="536.40" y="304.50" font-size="10.40" font-weight="bold" stroke="#000" stroke-width="0.22" text-anchor="middle" textLength="89.67" lengthAdjust="spacingAndGlyphs">Vaccine efficacy</text>
<text x="381.10" y="151.80" font-size="10.40" font-weight="bold" stroke="#000" stroke-width="0.22" text-anchor="middle" textLength="205.57" lengthAdjust="spacingAndGlyphs" transform="rotate(-90.00 381.10 151.80)">Total vaccine coverage available (%)</text>
<text x="536.40" y="20.90" font-size="10.40" font-weight="bold" stroke="#000" stroke-width="0.22" text-anchor="middle" textLength="168.25" lengthAdjust="spacingAndGlyphs">Percentage of deaths averted</text>
<rect x="676.50" y="262.69" width="12.00" height="13.01" fill="#f6f3ea"/>
<rect x="676.50" y="250.28" width="12.00" height="13.01" fill="#edebdb"/>
<rect x="676.50" y="237.87" width="12.00" height="13.01" fill="#e2e4cc"/>
<rect x="676.50" y="225.46" width="12.00" height="13.01" fill="#d5debe"/>
<rect x="676.50" y="213.05" width="12.00" height="13.01" fill="#c7d8b2"/>
<rect x="676.50" y="200.64" width="12.00" height="13.01" fill="#b7d2a7"/>
<rect x="676.50" y="188.23" width="12.00" height="13.01" fill="#a7cc9f"/>
<rect x="676.50" y="175.82" width="12.00" height="13.01" fill="#96c598"/>
<rect x="676.50" y="163.41" width="12.00" height="13.01" fill="#89bf94"/>
<rect x="676.50" y="151.00" width="12.00" height="13.01" fill="#79b790"/>
<rect x="676.50" y="138.59" width="12.00" height="13.01" fill="#6dae8f"/>
<rect x="676.50" y="126.18" width="12.00" height="13.01" fill="#61a58e"/>
<rect x="676.50" y="113.77" width="12.00" height="13.01" fill="#589a8d"/>
<rect x="676.50" y="101.36" width="12.00" height="13.01" fill="#4f8e8d"/>
<rect x="676.50" y="88.95" width="12.00" height="13.01" fill="#4a828c"/>
<rect x="676.50" y="76.54" width="12.00" height="13.01" fill="#46758a"/>
<rect x="676.50" y="64.13" width="12.00" height="13.01" fill="#436685"/>
<rect x="676.50" y="51.72" width="12.00" height="13.01" fill="#41577d"/>
<rect x="676.50" y="39.31" width="12.00" height="13.01" fill="#3f4973"/>
<rect x="676.50" y="26.90" width="12.00" height="13.01" fill="#3c3d67"/>
<rect x="676.50" y="27.20" width="12.00" height="248.20" fill="none" stroke="#1a1a1a" stroke-width="1"/>
<line x1="688.50" y1="275.40" x2="691.80" y2="275.40" stroke="#1a1a1a" stroke-width="1"/>
<text x="695.90" y="279.70" font-size="10.20" stroke="#000" stroke-width="0.18" textLength="6.11" lengthAdjust="spacingAndGlyphs">0</text>
<line x1="688.50" y1="238.17" x2="691.80" y2="238.17" stroke="#1a1a1a" stroke-width="1"/>
<text x="695.90" y="242.47" font-size="10.20" stroke="#000" stroke-width="0.18" textLength="12.22" lengthAdjust="spacingAndGlyphs">15</text>
<line x1="688.50" y1="200.94" x2="691.80" y2="200.94" stroke="#1a1a1a" stroke-width="1"/>
<text x="695.90" y="205.24" font-size="10.20" stroke="#000" stroke-width="0.18" textLength="12.22" lengthAdjust="spacingAndGlyphs">30</text>
<line x1="688.50" y1="163.71" x2="691.80" y2="163.71" stroke="#1a1a1a" stroke-width="1"/>
<text x="695.90" y="168.01" font-size="10.20" stroke="#000" stroke-width="0.18" textLength="12.22" lengthAdjust="spacingAndGlyphs">45</text>
<line x1="688.50" y1="126.48" x2="691.80" y2="126.48" stroke="#1a1a1a" stroke-width="1"/>
<text x="695.90" y="130.78" font-size="10.20" stroke="#000" stroke-width="0.18" textLength="12.22" lengthAdjust="spacingAndGlyphs">60</text>
<line x1="688.50" y1="89.25" x2="691.80" y2="89.25" stroke="#1a1a1a" stroke-width="1"/>
<text x="695.90" y="93.55" font-size="10.20" stroke="#000" stroke-width="0.18" textLength="12.22" lengthAdjust="spacingAndGlyphs">75</text>
<line x1="688.50" y1="52.02" x2="691.80" y2="52.02" stroke="#1a1a1a" stroke-width="1"/>
<text x="695.90" y="56.32" font-size="10.20" stroke="#000" stroke-width="0.18" textLength="12.22" lengthAdjust="spacingAndGlyphs">90</text>
<clipPath id="clipC"><rect x="39.60" y="423.30" width="248.00" height="247.80"/></clipPath>
<g clip-path="url(#clipC)">
<rect x="39.60" y="423.30" width="248.00" height="247.80" fill="#4b64d5"/>
<path d="M67.16 671.10L94.71 671.10L122.27 671.10L149.82 671.10L177.38 671.10L204.93 671.10L232.49 671.10L260.04 671.10L287.60 671.10L287.60 643.57L287.60 616.03L287.60 611.38L260.04 600.29L232.49 591.10L226.12 588.50L204.93 573.26L189.47 560.97L177.38 550.72L166.49 533.43L153.20 505.90L149.82 496.90L147.07 478.37L145.81 450.83L145.17 423.30L122.27 423.30L94.71 423.30L67.16 423.30L39.60 423.30L39.60 450.83L39.60 478.37L39.60 505.90L39.60 533.43L39.60 560.97L39.60 588.50L39.60 616.03L39.60 643.57L39.60 671.10Z" fill="#5d7ce6"/>
<path d="M67.16 671.10L94.71 671.10L122.27 671.10L149.82 671.10L177.38 671.10L204.93 671.10L232.49 671.10L260.04 671.10L287.60 671.10L287.60 643.57L287.60 620.34L268.21 616.03L260.04 612.08L232.49 601.03L204.93 589.64L203.15 588.50L177.38 566.30L172.59 560.97L154.72 533.43L149.82 524.46L141.99 505.90L137.49 478.37L136.44 450.83L136.28 423.30L122.27 423.30L94.71 423.30L67.16 423.30L39.60 423.30L39.60 450.83L39.60 478.37L39.60 505.90L39.60 533.43L39.60 560.97L39.60 588.50L39.60 616.03L39.60 643.57L39.60 671.10Z" fill="#6f92f3"/>
<path d="M67.16 671.10L94.71 671.10L122.27 671.10L149.82 671.10L177.38 671.10L204.93 671.10L232.49 671.10L260.04 671.10L287.60 671.10L287.60 643.57L287.60 625.74L260.04 619.89L244.45 616.03L232.49 610.97L204.93 598.39L189.42 588.50L177.38 578.13L161.97 560.97L149.82 542.74L144.53 533.43L132.89 505.90L127.91 478.37L127.07 450.83L127.38 423.30L122.27 423.30L94.71 423.30L67.16 423.30L39.60 423.30L39.60 450.83L39.60 478.37L39.60 505.90L39.60 533.43L39.60 560.97L39.60 588.50L39.60 616.03L39.60 643.57L39.60 671.10Z" fill="#82a6fb"/>
<path d="M67.16 671.10L94.71 671.10L122.27 671.10L149.82 671.10L177.38 671.10L204.93 671.10L232.49 671.10L260.04 671.10L287.60 671.10L287.60 643.57L287.60 631.14L260.04 625.69L232.49 618.88L223.52 616.03L204.93 607.14L177.38 589.58L176.13 588.50L151.35 560.97L149.82 558.67L135.48 533.43L123.79 505.90L122.27 497.92L119.09 478.37L118.34 450.83L118.78 423.30L94.71 423.30L67.16 423.30L39.60 423.30L39.60 450.83L39.60 478.37L39.60 505.90L39.60 533.43L39.60 560.97L39.60 588.50L39.60 616.03L39.60 643.57L39.60 671.10Z" fill="#97b8ff"/>
<path d="M67.16 671.10L94.71 671.10L122.27 671.10L149.82 671.10L177.38 671.10L204.93 671.10L232.49 671.10L260.04 671.10L287.60 671.10L287.60 643.57L287.60 636.54L260.04 631.49L232.49 624.70L205.22 616.03L204.93 615.89L177.38 598.36L166.02 588.50L149.82 570.56L142.13 560.97L126.42 533.43L122.27 523.64L115.73 505.90L111.37 478.37L110.29 450.83L110.58 423.30L94.71 423.30L67.16 423.30L39.60 423.30L39.60 450.83L39.60 478.37L39.60 505.90L39.60 533.43L39.60 560.97L39.60 588.50L39.60 616.03L39.60 643.57L39.60 671.10Z" fill="#aac7fd"/>
<path d="M67.16 671.10L94.71 671.10L122.27 671.10L149.82 671.10L177.38 671.10L204.93 671.10L232.49 671.10L260.04 671.10L287.60 671.10L287.60 643.57L287.60 641.94L260.04 637.29L232.49 630.51L204.93 622.10L191.36 616.03L177.38 607.13L155.90 588.50L149.82 581.76L133.14 560.97L122.27 541.94L117.60 533.43L107.88 505.90L103.64 478.37L102.23 450.83L102.37 423.30L94.71 423.30L67.16 423.30L39.60 423.30L39.60 450.83L39.60 478.37L39.60 505.90L39.60 533.43L39.60 560.97L39.60 588.50L39.60 616.03L39.60 643.57L39.60 671.10Z" fill="#bcd2f7"/>
<path d="M67.16 671.10L94.71 671.10L122.27 671.10L149.82 671.10L177.38 671.10L204.93 671.10L232.49 671.10L260.04 671.10L287.60 671.10L287.60 647.05L262.96 643.57L260.04 643.09L232.49 636.32L204.93 628.26L177.58 616.03L177.38 615.91L149.82 592.42L145.59 588.50L124.15 560.97L122.27 557.68L108.96 533.43L100.02 505.90L95.92 478.37L94.71 459.00L94.22 450.83L94.22 423.30L67.16 423.30L39.60 423.30L39.60 450.83L39.60 478.37L39.60 505.90L39.60 533.43L39.60 560.97L39.60 588.50L39.60 616.03L39.60 643.57L39.60 671.10Z" fill="#cdd9ec"/>
<path d="M67.16 671.10L94.71 671.10L122.27 671.10L149.82 671.10L177.38 671.10L204.93 671.10L232.49 671.10L260.04 671.10L287.60 671.10L287.60 652.03L260.04 648.98L238.31 643.57L232.49 642.14L204.93 634.42L177.38 622.99L166.02 616.03L149.82 602.23L134.97 588.50L122.27 571.92L114.52 560.97L100.33 533.43L94.71 515.05L92.12 505.90L88.16 478.37L86.76 450.83L86.76 423.30L67.16 423.30L39.60 423.30L39.60 450.83L39.60 478.37L39.60 505.90L39.60 533.43L39.60 560.97L39.60 588.50L39.60 616.03L39.60 643.57L39.60 671.10Z" fill="#dddcdc"/>
<path d="M67.16 671.10L94.71 671.10L122.27 671.10L149.82 671.10L177.38 671.10L204.93 671.10L232.49 671.10L260.04 671.10L287.60 671.10L287.60 657.01L260.04 654.88L232.49 648.32L215.70 643.57L204.93 640.59L177.38 630.06L154.50 616.03L149.82 612.05L124.36 588.50L122.27 585.77L104.73 560.97L94.71 540.45L91.71 533.43L84.11 505.90L80.40 478.37L79.30 450.83L79.31 423.30L67.16 423.30L39.60 423.30L39.60 450.83L39.60 478.37L39.60 505.90L39.60 533.43L39.60 560.97L39.60 588.50L39.60 616.03L39.60 643.57L39.60 671.10Z" fill="#ead4c8"/>
<path d="M67.16 671.10L94.71 671.10L122.27 671.10L149.82 671.10L177.38 671.10L204.93 671.10L232.49 671.10L260.04 671.10L287.60 671.10L287.60 662.00L260.04 660.78L232.49 654.62L204.93 647.39L194.98 643.57L177.38 637.12L149.82 622.14L141.25 616.03L122.27 598.93L113.03 588.50L94.93 560.97L94.71 560.52L83.12 533.43L76.11 505.90L72.64 478.37L71.84 450.83L71.86 423.30L67.16 423.30L39.60 423.30L39.60 450.83L39.60 478.37L39.60 505.90L39.60 533.43L39.60 560.97L39.60 588.50L39.60 616.03L39.60 643.57L39.60 671.10Z" fill="#f3c8b2"/>
<path d="M67.16 671.10L94.71 671.10L122.27 671.10L149.82 671.10L177.38 671.10L204.93 671.10L232.49 671.10L260.04 671.10L287.60 671.10L287.60 666.98L260.04 666.68L232.49 660.93L204.93 654.79L177.38 644.33L175.33 643.57L149.82 632.40L126.82 616.03L122.27 611.93L101.52 588.50L94.71 578.12L85.07 560.97L74.53 533.43L68.10 505.90L67.16 498.00L65.06 478.37L64.50 450.83L64.48 423.30L39.60 423.30L39.60 450.83L39.60 478.37L39.60 505.90L39.60 533.43L39.60 560.97L39.60 588.50L39.60 616.03L39.60 643.57L39.60 671.10Z" fill="#f7b89c"/>
<path d="M67.16 671.10L94.71 671.10L122.27 671.10L149.82 671.10L177.38 671.10L204.93 671.10L232.49 671.10L252.05 671.10L232.49 667.23L204.93 662.19L177.38 653.12L151.87 643.57L149.82 642.67L122.27 625.18L111.95 616.03L94.71 595.74L89.63 588.50L75.21 560.97L67.16 537.50L65.88 533.43L60.33 505.90L57.91 478.37L57.34 450.83L57.25 423.30L39.60 423.30L39.60 450.83L39.60 478.37L39.60 505.90L39.60 533.43L39.60 560.97L39.60 588.50L39.60 616.03L39.60 643.57L39.60 671.10Z" fill="#f6a586"/>
<path d="M67.16 671.10L94.71 671.10L122.27 671.10L149.82 671.10L177.38 671.10L204.93 671.10L214.47 671.10L204.93 669.59L177.38 661.90L149.82 652.40L130.29 643.57L122.27 638.55L96.87 616.03L94.71 613.49L77.20 588.50L67.16 566.07L65.21 560.97L56.86 533.43L52.59 505.90L50.77 478.37L50.18 450.83L50.01 423.30L39.60 423.30L39.60 450.83L39.60 478.37L39.60 505.90L39.60 533.43L39.60 560.97L39.60 588.50L39.60 616.03L39.60 643.57L39.60 671.10Z" fill="#f18d6f"/>
<path d="M67.16 671.10L94.71 671.10L122.27 671.10L149.82 671.10L177.38 671.10L178.92 671.10L177.38 670.68L149.82 662.07L122.27 651.17L107.91 643.57L94.71 632.51L80.91 616.03L67.16 593.57L64.63 588.50L54.59 560.97L47.84 533.43L44.86 505.90L43.62 478.37L43.02 450.83L42.77 423.30L39.60 423.30L39.60 450.83L39.60 478.37L39.60 505.90L39.60 533.43L39.60 560.97L39.60 588.50L39.60 616.03L39.60 643.57L39.60 671.10Z" fill="#e7745b"/>
<path d="M67.16 671.10L94.71 671.10L122.27 671.10L147.20 671.10L122.27 663.34L94.71 650.88L85.51 643.57L67.16 620.09L64.63 616.03L51.50 588.50L43.97 560.97L39.60 538.25L39.60 560.97L39.60 588.50L39.60 616.03L39.60 643.57L39.60 671.10Z" fill="#d95847"/>
<path d="M67.16 671.10L94.71 671.10L103.76 671.10L94.71 668.06L67.16 647.98L62.80 643.57L47.37 616.03L39.60 593.23L39.60 616.03L39.60 643.57L39.60 671.10Z" fill="#c83836"/>
<path d="M39.60 670.01L39.60 671.10L40.63 671.10Z" fill="#c83836"/>
<line x1="149.82" y1="423.30" x2="149.82" y2="671.10" stroke="#111" stroke-width="1" stroke-dasharray="1 1.9"/>
<line x1="39.60" y1="560.97" x2="287.60" y2="560.97" stroke="#111" stroke-width="1" stroke-dasharray="1 1.9"/>
<g>
<path d="M287.60 611.38 L260.04 600.29 L232.49 591.10 L226.12 588.50 L204.93 573.26 L189.47 560.97 L177.38 550.72 L166.49 533.43 L153.20 505.90 L149.82 496.90 L147.07 478.37 L145.81 450.83 L145.17 423.30" fill="none" stroke="#000" stroke-width="1.45" stroke-linejoin="round"/>
</g>
</g>
<rect x="39.60" y="423.30" width="248.00" height="247.80" fill="none" stroke="#1a1a1a" stroke-width="1"/>
<line x1="39.60" y1="671.10" x2="39.60" y2="674.60" stroke="#1a1a1a" stroke-width="1"/>
<line x1="36.00" y1="671.10" x2="39.60" y2="671.10" stroke="#1a1a1a" stroke-width="1"/>
<text x="39.60" y="685.90" font-size="10.20" stroke="#000" stroke-width="0.18" text-anchor="middle" textLength="12.22" lengthAdjust="spacingAndGlyphs">10</text>
<text x="32.20" y="675.00" font-size="10.20" stroke="#000" stroke-width="0.18" text-anchor="end" textLength="12.22" lengthAdjust="spacingAndGlyphs">10</text>
<line x1="67.16" y1="671.10" x2="67.16" y2="674.60" stroke="#1a1a1a" stroke-width="1"/>
<line x1="36.00" y1="643.57" x2="39.60" y2="643.57" stroke="#1a1a1a" stroke-width="1"/>
<text x="67.16" y="685.90" font-size="10.20" stroke="#000" stroke-width="0.18" text-anchor="middle" textLength="12.22" lengthAdjust="spacingAndGlyphs">20</text>
<text x="32.20" y="647.47" font-size="10.20" stroke="#000" stroke-width="0.18" text-anchor="end" textLength="12.22" lengthAdjust="spacingAndGlyphs">20</text>
<line x1="94.71" y1="671.10" x2="94.71" y2="674.60" stroke="#1a1a1a" stroke-width="1"/>
<line x1="36.00" y1="616.03" x2="39.60" y2="616.03" stroke="#1a1a1a" stroke-width="1"/>
<text x="94.71" y="685.90" font-size="10.20" stroke="#000" stroke-width="0.18" text-anchor="middle" textLength="12.22" lengthAdjust="spacingAndGlyphs">30</text>
<text x="32.20" y="619.93" font-size="10.20" stroke="#000" stroke-width="0.18" text-anchor="end" textLength="12.22" lengthAdjust="spacingAndGlyphs">30</text>
<line x1="122.27" y1="671.10" x2="122.27" y2="674.60" stroke="#1a1a1a" stroke-width="1"/>
<line x1="36.00" y1="588.50" x2="39.60" y2="588.50" stroke="#1a1a1a" stroke-width="1"/>
<text x="122.27" y="685.90" font-size="10.20" stroke="#000" stroke-width="0.18" text-anchor="middle" textLength="12.22" lengthAdjust="spacingAndGlyphs">40</text>
<text x="32.20" y="592.40" font-size="10.20" stroke="#000" stroke-width="0.18" text-anchor="end" textLength="12.22" lengthAdjust="spacingAndGlyphs">40</text>
<line x1="149.82" y1="671.10" x2="149.82" y2="674.60" stroke="#1a1a1a" stroke-width="1"/>
<line x1="36.00" y1="560.97" x2="39.60" y2="560.97" stroke="#1a1a1a" stroke-width="1"/>
<text x="149.82" y="685.90" font-size="10.20" stroke="#000" stroke-width="0.18" text-anchor="middle" textLength="12.22" lengthAdjust="spacingAndGlyphs">50</text>
<text x="32.20" y="564.87" font-size="10.20" stroke="#000" stroke-width="0.18" text-anchor="end" textLength="12.22" lengthAdjust="spacingAndGlyphs">50</text>
<line x1="177.38" y1="671.10" x2="177.38" y2="674.60" stroke="#1a1a1a" stroke-width="1"/>
<line x1="36.00" y1="533.43" x2="39.60" y2="533.43" stroke="#1a1a1a" stroke-width="1"/>
<text x="177.38" y="685.90" font-size="10.20" stroke="#000" stroke-width="0.18" text-anchor="middle" textLength="12.22" lengthAdjust="spacingAndGlyphs">60</text>
<text x="32.20" y="537.33" font-size="10.20" stroke="#000" stroke-width="0.18" text-anchor="end" textLength="12.22" lengthAdjust="spacingAndGlyphs">60</text>
<line x1="204.93" y1="671.10" x2="204.93" y2="674.60" stroke="#1a1a1a" stroke-width="1"/>
<line x1="36.00" y1="505.90" x2="39.60" y2="505.90" stroke="#1a1a1a" stroke-width="1"/>
<text x="204.93" y="685.90" font-size="10.20" stroke="#000" stroke-width="0.18" text-anchor="middle" textLength="12.22" lengthAdjust="spacingAndGlyphs">70</text>
<text x="32.20" y="509.80" font-size="10.20" stroke="#000" stroke-width="0.18" text-anchor="end" textLength="12.22" lengthAdjust="spacingAndGlyphs">70</text>
<line x1="232.49" y1="671.10" x2="232.49" y2="674.60" stroke="#1a1a1a" stroke-width="1"/>
<line x1="36.00" y1="478.37" x2="39.60" y2="478.37" stroke="#1a1a1a" stroke-width="1"/>
<text x="232.49" y="685.90" font-size="10.20" stroke="#000" stroke-width="0.18" text-anchor="middle" textLength="12.22" lengthAdjust="spacingAndGlyphs">80</text>
<text x="32.20" y="482.27" font-size="10.20" stroke="#000" stroke-width="0.18" text-anchor="end" textLength="12.22" lengthAdjust="spacingAndGlyphs">80</text>
<line x1="260.04" y1="671.10" x2="260.04" y2="674.60" stroke="#1a1a1a" stroke-width="1"/>
<line x1="36.00" y1="450.83" x2="39.60" y2="450.83" stroke="#1a1a1a" stroke-width="1"/>
<text x="260.04" y="685.90" font-size="10.20" stroke="#000" stroke-width="0.18" text-anchor="middle" textLength="12.22" lengthAdjust="spacingAndGlyphs">90</text>
<text x="32.20" y="454.73" font-size="10.20" stroke="#000" stroke-width="0.18" text-anchor="end" textLength="12.22" lengthAdjust="spacingAndGlyphs">90</text>
<line x1="287.60" y1="671.10" x2="287.60" y2="674.60" stroke="#1a1a1a" stroke-width="1"/>
<line x1="36.00" y1="423.30" x2="39.60" y2="423.30" stroke="#1a1a1a" stroke-width="1"/>
<text x="287.60" y="685.90" font-size="10.20" stroke="#000" stroke-width="0.18" text-anchor="middle" textLength="18.32" lengthAdjust="spacingAndGlyphs">100</text>
<text x="32.20" y="427.20" font-size="10.20" stroke="#000" stroke-width="0.18" text-anchor="end" textLength="18.32" lengthAdjust="spacingAndGlyphs">100</text>
<text x="163.60" y="700.20" font-size="10.40" font-weight="bold" stroke="#000" stroke-width="0.22" text-anchor="middle" textLength="89.67" lengthAdjust="spacingAndGlyphs">Vaccine efficacy</text>
<text x="8.30" y="547.70" font-size="10.40" font-weight="bold" stroke="#000" stroke-width="0.22" text-anchor="middle" textLength="205.57" lengthAdjust="spacingAndGlyphs" transform="rotate(-90.00 8.30 547.70)">Total vaccine coverage available (%)</text>
<text x="163.60" y="417.00" font-size="10.40" font-weight="bold" stroke="#000" stroke-width="0.22" text-anchor="middle" textLength="136.71" lengthAdjust="spacingAndGlyphs">Hospitalizations at peak</text>
<rect x="303.50" y="657.03" width="12.00" height="14.37" fill="#4b64d5"/>
<rect x="303.50" y="643.27" width="12.00" height="14.37" fill="#5d7ce6"/>
<rect x="303.50" y="629.50" width="12.00" height="14.37" fill="#6f92f3"/>
<rect x="303.50" y="615.73" width="12.00" height="14.37" fill="#82a6fb"/>
<rect x="303.50" y="601.97" width="12.00" height="14.37" fill="#97b8ff"/>
<rect x="303.50" y="588.20" width="12.00" height="14.37" fill="#aac7fd"/>
<rect x="303.50" y="574.43" width="12.00" height="14.37" fill="#bcd2f7"/>
<rect x="303.50" y="560.67" width="12.00" height="14.37" fill="#cdd9ec"/>
<rect x="303.50" y="546.90" width="12.00" height="14.37" fill="#dddcdc"/>
<rect x="303.50" y="533.13" width="12.00" height="14.37" fill="#ead4c8"/>
<rect x="303.50" y="519.37" width="12.00" height="14.37" fill="#f3c8b2"/>
<rect x="303.50" y="505.60" width="12.00" height="14.37" fill="#f7b89c"/>
<rect x="303.50" y="491.83" width="12.00" height="14.37" fill="#f6a586"/>
<rect x="303.50" y="478.07" width="12.00" height="14.37" fill="#f18d6f"/>
<rect x="303.50" y="464.30" width="12.00" height="14.37" fill="#e7745b"/>
<rect x="303.50" y="450.53" width="12.00" height="14.37" fill="#d95847"/>
<rect x="303.50" y="436.77" width="12.00" height="14.37" fill="#c83836"/>
<rect x="303.50" y="423.00" width="12.00" height="14.37" fill="#c83836"/>
<rect x="303.50" y="423.30" width="12.00" height="247.80" fill="none" stroke="#1a1a1a" stroke-width="1"/>
<line x1="315.50" y1="671.10" x2="318.80" y2="671.10" stroke="#1a1a1a" stroke-width="1"/>
<text x="322.90" y="675.40" font-size="10.20" stroke="#000" stroke-width="0.18" textLength="6.11" lengthAdjust="spacingAndGlyphs">0</text>
<line x1="315.50" y1="643.57" x2="318.80" y2="643.57" stroke="#1a1a1a" stroke-width="1"/>
<text x="322.90" y="647.87" font-size="10.20" stroke="#000" stroke-width="0.18" textLength="24.43" lengthAdjust="spacingAndGlyphs">2000</text>
<line x1="315.50" y1="616.03" x2="318.80" y2="616.03" stroke="#1a1a1a" stroke-width="1"/>
<text x="322.90" y="620.33" font-size="10.20" stroke="#000" stroke-width="0.18" textLength="24.43" lengthAdjust="spacingAndGlyphs">4000</text>
<line x1="315.50" y1="588.50" x2="318.80" y2="588.50" stroke="#1a1a1a" stroke-width="1"/>
<text x="322.90" y="592.80" font-size="10.20" stroke="#000" stroke-width="0.18" textLength="24.43" lengthAdjust="spacingAndGlyphs">6000</text>
<line x1="315.50" y1="560.97" x2="318.80" y2="560.97" stroke="#1a1a1a" stroke-width="1"/>
<text x="322.90" y="565.27" font-size="10.20" stroke="#000" stroke-width="0.18" textLength="24.43" lengthAdjust="spacingAndGlyphs">8000</text>
<line x1="315.50" y1="533.43" x2="318.80" y2="533.43" stroke="#1a1a1a" stroke-width="1"/>
<text x="322.90" y="537.73" font-size="10.20" stroke="#000" stroke-width="0.18" textLength="30.54" lengthAdjust="spacingAndGlyphs">10000</text>
<line x1="315.50" y1="505.90" x2="318.80" y2="505.90" stroke="#1a1a1a" stroke-width="1"/>
<text x="322.90" y="510.20" font-size="10.20" stroke="#000" stroke-width="0.18" textLength="30.54" lengthAdjust="spacingAndGlyphs">12000</text>
<line x1="315.50" y1="478.37" x2="318.80" y2="478.37" stroke="#1a1a1a" stroke-width="1"/>
<text x="322.90" y="482.67" font-size="10.20" stroke="#000" stroke-width="0.18" textLength="30.54" lengthAdjust="spacingAndGlyphs">14000</text>
<line x1="315.50" y1="450.83" x2="318.80" y2="450.83" stroke="#1a1a1a" stroke-width="1"/>
<text x="322.90" y="455.13" font-size="10.20" stroke="#000" stroke-width="0.18" textLength="30.54" lengthAdjust="spacingAndGlyphs">16000</text>
<line x1="315.50" y1="423.30" x2="318.80" y2="423.30" stroke="#1a1a1a" stroke-width="1"/>
<text x="322.90" y="427.60" font-size="10.20" stroke="#000" stroke-width="0.18" textLength="30.54" lengthAdjust="spacingAndGlyphs">18000</text>
<clipPath id="clipD"><rect x="412.40" y="423.30" width="248.00" height="247.80"/></clipPath>
<g clip-path="url(#clipD)">
<rect x="412.40" y="423.30" width="248.00" height="247.80" fill="#485fd1"/>
<path d="M439.96 671.10L467.51 671.10L495.07 671.10L522.62 671.10L550.18 671.10L577.73 671.10L605.29 671.10L632.84 671.10L660.40 671.10L660.40 643.57L660.40 616.36L659.71 616.03L632.84 597.85L613.23 588.50L605.29 580.91L577.73 566.73L570.41 560.97L562.37 533.43L550.18 517.42L541.09 505.90L525.67 478.37L523.15 450.83L523.16 423.30L522.62 423.30L495.07 423.30L467.51 423.30L439.96 423.30L412.40 423.30L412.40 450.83L412.40 478.37L412.40 505.90L412.40 533.43L412.40 560.97L412.40 588.50L412.40 616.03L412.40 643.57L412.40 671.10Z" fill="#5572df"/>
<path d="M439.96 671.10L467.51 671.10L495.07 671.10L522.62 671.10L550.18 671.10L577.73 671.10L605.29 671.10L632.84 671.10L660.40 671.10L660.40 643.57L660.40 623.40L645.01 616.03L632.84 607.80L605.29 593.59L598.60 588.50L577.73 574.15L560.98 560.97L550.18 539.53L545.48 533.43L522.62 506.16L522.54 505.90L516.57 478.37L513.06 450.83L513.04 423.30L495.07 423.30L467.51 423.30L439.96 423.30L412.40 423.30L412.40 450.83L412.40 478.37L412.40 505.90L412.40 533.43L412.40 560.97L412.40 588.50L412.40 616.03L412.40 643.57L412.40 671.10Z" fill="#6384eb"/>
<path d="M439.96 671.10L467.51 671.10L495.07 671.10L522.62 671.10L550.18 671.10L577.73 671.10L605.29 671.10L632.84 671.10L660.40 671.10L660.40 643.57L660.40 630.44L632.84 617.45L630.35 616.03L605.29 601.80L587.82 588.50L577.73 581.57L551.55 560.97L550.18 558.24L531.08 533.43L522.62 523.34L516.72 505.90L509.93 478.37L503.35 450.83L503.32 423.30L495.07 423.30L467.51 423.30L439.96 423.30L412.40 423.30L412.40 450.83L412.40 478.37L412.40 505.90L412.40 533.43L412.40 560.97L412.40 588.50L412.40 616.03L412.40 643.57L412.40 671.10Z" fill="#7295f4"/>
<path d="M439.96 671.10L467.51 671.10L495.07 671.10L522.62 671.10L550.18 671.10L577.73 671.10L605.29 671.10L632.84 671.10L660.40 671.10L660.40 643.57L660.40 637.48L632.84 625.67L615.89 616.03L605.29 610.01L577.73 589.24L576.81 588.50L550.18 569.55L542.69 560.97L522.62 537.64L519.37 533.43L510.90 505.90L503.29 478.37L495.07 453.74L494.03 450.83L493.92 423.30L467.51 423.30L439.96 423.30L412.40 423.30L412.40 450.83L412.40 478.37L412.40 505.90L412.40 533.43L412.40 560.97L412.40 588.50L412.40 616.03L412.40 643.57L412.40 671.10Z" fill="#81a4fb"/>
<path d="M439.96 671.10L467.51 671.10L495.07 671.10L522.62 671.10L550.18 671.10L577.73 671.10L605.29 671.10L632.84 671.10L660.40 671.10L660.40 644.26L657.56 643.57L632.84 633.89L605.29 618.90L600.78 616.03L577.73 600.59L562.69 588.50L550.18 579.60L533.91 560.97L522.62 547.84L511.49 533.43L505.09 505.90L496.65 478.37L495.07 473.61L486.98 450.83L486.27 423.30L467.51 423.30L439.96 423.30L412.40 423.30L412.40 450.83L412.40 478.37L412.40 505.90L412.40 533.43L412.40 560.97L412.40 588.50L412.40 616.03L412.40 643.57L412.40 671.10Z" fill="#90b2fe"/>
<path d="M439.96 671.10L467.51 671.10L495.07 671.10L522.62 671.10L550.18 671.10L577.73 671.10L605.29 671.10L632.84 671.10L660.40 671.10L660.40 649.36L636.58 643.57L632.84 642.10L605.29 629.67L583.84 616.03L577.73 611.94L550.18 589.87L548.81 588.50L525.14 560.97L522.62 558.04L503.61 533.43L499.27 505.90L495.07 492.49L488.61 478.37L479.93 450.83L478.63 423.30L467.51 423.30L439.96 423.30L412.40 423.30L412.40 450.83L412.40 478.37L412.40 505.90L412.40 533.43L412.40 560.97L412.40 588.50L412.40 616.03L412.40 643.57L412.40 671.10Z" fill="#9fbfff"/>
<path d="M439.96 671.10L467.51 671.10L495.07 671.10L522.62 671.10L550.18 671.10L577.73 671.10L605.29 671.10L632.84 671.10L660.40 671.10L660.40 654.46L632.84 648.53L612.47 643.57L605.29 640.45L577.73 623.64L568.02 616.03L550.18 601.90L536.82 588.50L522.62 571.32L513.16 560.97L495.73 533.43L495.07 527.01L492.41 505.90L480.12 478.37L472.88 450.83L470.99 423.30L467.51 423.30L439.96 423.30L412.40 423.30L412.40 450.83L412.40 478.37L412.40 505.90L412.40 533.43L412.40 560.97L412.40 588.50L412.40 616.03L412.40 643.57L412.40 671.10Z" fill="#afcafc"/>
<path d="M439.96 671.10L467.51 671.10L495.07 671.10L522.62 671.10L550.18 671.10L577.73 671.10L605.29 671.10L632.84 671.10L660.40 671.10L660.40 659.56L632.84 654.57L605.29 648.10L591.19 643.57L577.73 635.52L552.83 616.03L550.18 613.93L524.83 588.50L522.62 585.83L499.89 560.97L495.07 553.15L487.14 533.43L482.86 505.90L471.64 478.37L467.51 459.88L465.98 450.83L464.11 423.30L439.96 423.30L412.40 423.30L412.40 450.83L412.40 478.37L412.40 505.90L412.40 533.43L412.40 560.97L412.40 588.50L412.40 616.03L412.40 643.57L412.40 671.10Z" fill="#bed2f6"/>
<path d="M439.96 671.10L467.51 671.10L495.07 671.10L522.62 671.10L550.18 671.10L577.73 671.10L605.29 671.10L632.84 671.10L660.40 671.10L660.40 664.66L632.84 660.61L605.29 654.47L577.73 645.76L572.61 643.57L550.18 626.19L539.80 616.03L522.62 598.80L509.95 588.50L495.07 571.95L488.23 560.97L478.48 533.43L473.30 505.90L467.51 491.00L463.87 478.37L459.57 450.83L457.88 423.30L439.96 423.30L412.40 423.30L412.40 450.83L412.40 478.37L412.40 505.90L412.40 533.43L412.40 560.97L412.40 588.50L412.40 616.03L412.40 643.57L412.40 671.10Z" fill="#cbd8ee"/>
<path d="M439.96 671.10L467.51 671.10L495.07 671.10L522.62 671.10L550.18 671.10L577.73 671.10L605.29 671.10L632.84 671.10L660.40 671.10L660.40 669.76L632.84 666.65L605.29 660.85L577.73 652.58L556.72 643.57L550.18 638.50L527.22 616.03L522.62 611.42L495.07 589.06L494.55 588.50L477.50 560.97L469.82 533.43L467.51 522.34L464.22 505.90L456.78 478.37L453.15 450.83L451.64 423.30L439.96 423.30L412.40 423.30L412.40 450.83L412.40 478.37L412.40 505.90L412.40 533.43L412.40 560.97L412.40 588.50L412.40 616.03L412.40 643.57L412.40 671.10Z" fill="#d7dce3"/>
<path d="M439.96 671.10L467.51 671.10L495.07 671.10L522.62 671.10L550.18 671.10L577.73 671.10L605.29 671.10L624.53 671.10L605.29 667.22L577.73 659.39L550.18 647.18L543.52 643.57L522.62 623.07L511.81 616.03L495.07 602.67L481.97 588.50L467.51 562.54L466.95 560.97L461.53 533.43L455.86 505.90L449.70 478.37L446.73 450.83L445.41 423.30L439.96 423.30L412.40 423.30L412.40 450.83L412.40 478.37L412.40 505.90L412.40 533.43L412.40 560.97L412.40 588.50L412.40 616.03L412.40 643.57L412.40 671.10Z" fill="#e2dad5"/>
<path d="M439.96 671.10L467.51 671.10L495.07 671.10L522.62 671.10L550.18 671.10L577.73 671.10L595.57 671.10L577.73 666.21L550.18 653.31L532.20 643.57L522.62 634.18L495.07 616.23L494.81 616.03L469.40 588.50L467.51 585.11L458.90 560.97L453.38 533.43L447.51 505.90L442.61 478.37L440.31 450.83L439.96 442.35L439.09 423.30L412.40 423.30L412.40 450.83L412.40 478.37L412.40 505.90L412.40 533.43L412.40 560.97L412.40 588.50L412.40 616.03L412.40 643.57L412.40 671.10Z" fill="#ecd3c5"/>
<path d="M439.96 671.10L467.51 671.10L495.07 671.10L522.62 671.10L550.18 671.10L574.17 671.10L550.18 659.45L522.62 644.91L520.22 643.57L495.07 626.69L480.59 616.03L467.51 601.72L459.18 588.50L450.86 560.97L445.24 533.43L439.96 509.45L439.10 505.90L435.13 478.37L433.15 450.83L432.12 423.30L412.40 423.30L412.40 450.83L412.40 478.37L412.40 505.90L412.40 533.43L412.40 560.97L412.40 588.50L412.40 616.03L412.40 643.57L412.40 671.10Z" fill="#f2c9b4"/>
<path d="M439.96 671.10L467.51 671.10L495.07 671.10L522.62 671.10L550.18 671.10L561.54 671.10L550.18 665.58L522.62 653.64L504.62 643.57L495.07 637.16L467.51 616.91L466.49 616.03L449.37 588.50L442.81 560.97L439.96 547.15L436.73 533.43L430.19 505.90L427.41 478.37L425.95 450.83L425.15 423.30L412.40 423.30L412.40 450.83L412.40 478.37L412.40 505.90L412.40 533.43L412.40 560.97L412.40 588.50L412.40 616.03L412.40 643.57L412.40 671.10Z" fill="#f6bda2"/>
<path d="M439.96 671.10L467.51 671.10L495.07 671.10L522.62 671.10L547.65 671.10L522.62 662.36L495.07 648.00L489.13 643.57L467.51 627.95L453.72 616.03L439.96 589.50L439.51 588.50L433.73 560.97L427.56 533.43L421.29 505.90L419.69 478.37L418.74 450.83L418.18 423.30L412.40 423.30L412.40 450.83L412.40 478.37L412.40 505.90L412.40 533.43L412.40 560.97L412.40 588.50L412.40 616.03L412.40 643.57L412.40 671.10Z" fill="#f7ad90"/>
<path d="M439.96 671.10L467.51 671.10L495.07 671.10L522.62 671.10L522.65 671.10L522.62 671.09L495.07 659.44L473.84 643.57L467.51 639.00L440.95 616.03L439.96 614.11L428.60 588.50L424.08 560.97L418.38 533.43L412.40 505.99L412.40 533.43L412.40 560.97L412.40 588.50L412.40 616.03L412.40 643.57L412.40 671.10Z" fill="#f59d7e"/>
<path d="M439.96 671.10L467.51 671.10L495.07 671.10L495.58 671.10L495.07 670.88L467.51 656.24L451.72 643.57L439.96 634.72L425.25 616.03L417.70 588.50L414.43 560.97L412.40 550.59L412.40 560.97L412.40 588.50L412.40 616.03L412.40 643.57L412.40 671.10Z" fill="#f08b6e"/>
<path d="M439.96 671.10L457.49 671.10L439.96 657.52L429.10 643.57L412.40 621.08L412.40 643.57L412.40 671.10Z" fill="#e9785d"/>
<path d="M412.40 649.28L412.40 671.10L426.99 671.10Z" fill="#df634e"/>
<line x1="522.62" y1="423.30" x2="522.62" y2="671.10" stroke="#111" stroke-width="1" stroke-dasharray="1 1.9"/>
<line x1="412.40" y1="560.97" x2="660.40" y2="560.97" stroke="#111" stroke-width="1" stroke-dasharray="1 1.9"/>
<g>
<path d="M660.40 630.44 L632.84 617.45 L630.35 616.03 L605.29 601.80 L587.82 588.50 L577.73 581.57 L551.55 560.97 L550.18 558.24 L531.08 533.43 L522.62 523.34 L516.72 505.90 L509.93 478.37 L503.35 450.83 L503.32 423.30" fill="none" stroke="#000" stroke-width="1.45" stroke-linejoin="round"/>
</g>
</g>
<rect x="412.40" y="423.30" width="248.00" height="247.80" fill="none" stroke="#1a1a1a" stroke-width="1"/>
<line x1="412.40" y1="671.10" x2="412.40" y2="674.60" stroke="#1a1a1a" stroke-width="1"/>
<line x1="408.80" y1="671.10" x2="412.40" y2="671.10" stroke="#1a1a1a" stroke-width="1"/>
<text x="412.40" y="685.90" font-size="10.20" stroke="#000" stroke-width="0.18" text-anchor="middle" textLength="12.22" lengthAdjust="spacingAndGlyphs">10</text>
<text x="405.00" y="675.00" font-size="10.20" stroke="#000" stroke-width="0.18" text-anchor="end" textLength="12.22" lengthAdjust="spacingAndGlyphs">10</text>
<line x1="439.96" y1="671.10" x2="439.96" y2="674.60" stroke="#1a1a1a" stroke-width="1"/>
<line x1="408.80" y1="643.57" x2="412.40" y2="643.57" stroke="#1a1a1a" stroke-width="1"/>
<text x="439.96" y="685.90" font-size="10.20" stroke="#000" stroke-width="0.18" text-anchor="middle" textLength="12.22" lengthAdjust="spacingAndGlyphs">20</text>
<text x="405.00" y="647.47" font-size="10.20" stroke="#000" stroke-width="0.18" text-anchor="end" textLength="12.22" lengthAdjust="spacingAndGlyphs">20</text>
<line x1="467.51" y1="671.10" x2="467.51" y2="674.60" stroke="#1a1a1a" stroke-width="1"/>
<line x1="408.80" y1="616.03" x2="412.40" y2="616.03" stroke="#1a1a1a" stroke-width="1"/>
<text x="467.51" y="685.90" font-size="10.20" stroke="#000" stroke-width="0.18" text-anchor="middle" textLength="12.22" lengthAdjust="spacingAndGlyphs">30</text>
<text x="405.00" y="619.93" font-size="10.20" stroke="#000" stroke-width="0.18" text-anchor="end" textLength="12.22" lengthAdjust="spacingAndGlyphs">30</text>
<line x1="495.07" y1="671.10" x2="495.07" y2="674.60" stroke="#1a1a1a" stroke-width="1"/>
<line x1="408.80" y1="588.50" x2="412.40" y2="588.50" stroke="#1a1a1a" stroke-width="1"/>
<text x="495.07" y="685.90" font-size="10.20" stroke="#000" stroke-width="0.18" text-anchor="middle" textLength="12.22" lengthAdjust="spacingAndGlyphs">40</text>
<text x="405.00" y="592.40" font-size="10.20" stroke="#000" stroke-width="0.18" text-anchor="end" textLength="12.22" lengthAdjust="spacingAndGlyphs">40</text>
<line x1="522.62" y1="671.10" x2="522.62" y2="674.60" stroke="#1a1a1a" stroke-width="1"/>
<line x1="408.80" y1="560.97" x2="412.40" y2="560.97" stroke="#1a1a1a" stroke-width="1"/>
<text x="522.62" y="685.90" font-size="10.20" stroke="#000" stroke-width="0.18" text-anchor="middle" textLength="12.22" lengthAdjust="spacingAndGlyphs">50</text>
<text x="405.00" y="564.87" font-size="10.20" stroke="#000" stroke-width="0.18" text-anchor="end" textLength="12.22" lengthAdjust="spacingAndGlyphs">50</text>
<line x1="550.18" y1="671.10" x2="550.18" y2="674.60" stroke="#1a1a1a" stroke-width="1"/>
<line x1="408.80" y1="533.43" x2="412.40" y2="533.43" stroke="#1a1a1a" stroke-width="1"/>
<text x="550.18" y="685.90" font-size="10.20" stroke="#000" stroke-width="0.18" text-anchor="middle" textLength="12.22" lengthAdjust="spacingAndGlyphs">60</text>
<text x="405.00" y="537.33" font-size="10.20" stroke="#000" stroke-width="0.18" text-anchor="end" textLength="12.22" lengthAdjust="spacingAndGlyphs">60</text>
<line x1="577.73" y1="671.10" x2="577.73" y2="674.60" stroke="#1a1a1a" stroke-width="1"/>
<line x1="408.80" y1="505.90" x2="412.40" y2="505.90" stroke="#1a1a1a" stroke-width="1"/>
<text x="577.73" y="685.90" font-size="10.20" stroke="#000" stroke-width="0.18" text-anchor="middle" textLength="12.22" lengthAdjust="spacingAndGlyphs">70</text>
<text x="405.00" y="509.80" font-size="10.20" stroke="#000" stroke-width="0.18" text-anchor="end" textLength="12.22" lengthAdjust="spacingAndGlyphs">70</text>
<line x1="605.29" y1="671.10" x2="605.29" y2="674.60" stroke="#1a1a1a" stroke-width="1"/>
<line x1="408.80" y1="478.37" x2="412.40" y2="478.37" stroke="#1a1a1a" stroke-width="1"/>
<text x="605.29" y="685.90" font-size="10.20" stroke="#000" stroke-width="0.18" text-anchor="middle" textLength="12.22" lengthAdjust="spacingAndGlyphs">80</text>
<text x="405.00" y="482.27" font-size="10.20" stroke="#000" stroke-width="0.18" text-anchor="end" textLength="12.22" lengthAdjust="spacingAndGlyphs">80</text>
<line x1="632.84" y1="671.10" x2="632.84" y2="674.60" stroke="#1a1a1a" stroke-width="1"/>
<line x1="408.80" y1="450.83" x2="412.40" y2="450.83" stroke="#1a1a1a" stroke-width="1"/>
<text x="632.84" y="685.90" font-size="10.20" stroke="#000" stroke-width="0.18" text-anchor="middle" textLength="12.22" lengthAdjust="spacingAndGlyphs">90</text>
<text x="405.00" y="454.73" font-size="10.20" stroke="#000" stroke-width="0.18" text-anchor="end" textLength="12.22" lengthAdjust="spacingAndGlyphs">90</text>
<line x1="660.40" y1="671.10" x2="660.40" y2="674.60" stroke="#1a1a1a" stroke-width="1"/>
<line x1="408.80" y1="423.30" x2="412.40" y2="423.30" stroke="#1a1a1a" stroke-width="1"/>
<text x="660.40" y="685.90" font-size="10.20" stroke="#000" stroke-width="0.18" text-anchor="middle" textLength="18.32" lengthAdjust="spacingAndGlyphs">100</text>
<text x="405.00" y="427.20" font-size="10.20" stroke="#000" stroke-width="0.18" text-anchor="end" textLength="18.32" lengthAdjust="spacingAndGlyphs">100</text>
<text x="536.40" y="700.20" font-size="10.40" font-weight="bold" stroke="#000" stroke-width="0.22" text-anchor="middle" textLength="89.67" lengthAdjust="spacingAndGlyphs">Vaccine efficacy</text>
<text x="381.10" y="547.70" font-size="10.40" font-weight="bold" stroke="#000" stroke-width="0.22" text-anchor="middle" textLength="205.57" lengthAdjust="spacingAndGlyphs" transform="rotate(-90.00 381.10 547.70)">Total vaccine coverage available (%)</text>
<text x="536.40" y="417.20" font-size="10.40" font-weight="bold" stroke="#000" stroke-width="0.22" text-anchor="middle" textLength="65.01" lengthAdjust="spacingAndGlyphs">ICU at peak</text>
<rect x="676.50" y="658.41" width="12.00" height="12.99" fill="#485fd1"/>
<rect x="676.50" y="646.02" width="12.00" height="12.99" fill="#5572df"/>
<rect x="676.50" y="633.63" width="12.00" height="12.99" fill="#6384eb"/>
<rect x="676.50" y="621.24" width="12.00" height="12.99" fill="#7295f4"/>
<rect x="676.50" y="608.85" width="12.00" height="12.99" fill="#81a4fb"/>
<rect x="676.50" y="596.46" width="12.00" height="12.99" fill="#90b2fe"/>
<rect x="676.50" y="584.07" width="12.00" height="12.99" fill="#9fbfff"/>
<rect x="676.50" y="571.68" width="12.00" height="12.99" fill="#afcafc"/>
<rect x="676.50" y="559.29" width="12.00" height="12.99" fill="#bed2f6"/>
<rect x="676.50" y="546.90" width="12.00" height="12.99" fill="#cbd8ee"/>
<rect x="676.50" y="534.51" width="12.00" height="12.99" fill="#d7dce3"/>
<rect x="676.50" y="522.12" width="12.00" height="12.99" fill="#e2dad5"/>
<rect x="676.50" y="509.73" width="12.00" height="12.99" fill="#ecd3c5"/>
<rect x="676.50" y="497.34" width="12.00" height="12.99" fill="#f2c9b4"/>
<rect x="676.50" y="484.95" width="12.00" height="12.99" fill="#f6bda2"/>
<rect x="676.50" y="472.56" width="12.00" height="12.99" fill="#f7ad90"/>
<rect x="676.50" y="460.17" width="12.00" height="12.99" fill="#f59d7e"/>
<rect x="676.50" y="447.78" width="12.00" height="12.99" fill="#f08b6e"/>
<rect x="676.50" y="435.39" width="12.00" height="12.99" fill="#e9785d"/>
<rect x="676.50" y="423.00" width="12.00" height="12.99" fill="#df634e"/>
<rect x="676.50" y="423.30" width="12.00" height="247.80" fill="none" stroke="#1a1a1a" stroke-width="1"/>
<line x1="688.50" y1="671.10" x2="691.80" y2="671.10" stroke="#1a1a1a" stroke-width="1"/>
<text x="695.90" y="675.40" font-size="10.20" stroke="#000" stroke-width="0.18" textLength="6.11" lengthAdjust="spacingAndGlyphs">0</text>
<line x1="688.50" y1="633.93" x2="691.80" y2="633.93" stroke="#1a1a1a" stroke-width="1"/>
<text x="695.90" y="638.23" font-size="10.20" stroke="#000" stroke-width="0.18" textLength="24.43" lengthAdjust="spacingAndGlyphs">1500</text>
<line x1="688.50" y1="596.76" x2="691.80" y2="596.76" stroke="#1a1a1a" stroke-width="1"/>
<text x="695.90" y="601.06" font-size="10.20" stroke="#000" stroke-width="0.18" textLength="24.43" lengthAdjust="spacingAndGlyphs">3000</text>
<line x1="688.50" y1="559.59" x2="691.80" y2="559.59" stroke="#1a1a1a" stroke-width="1"/>
<text x="695.90" y="563.89" font-size="10.20" stroke="#000" stroke-width="0.18" textLength="24.43" lengthAdjust="spacingAndGlyphs">4500</text>
<line x1="688.50" y1="522.42" x2="691.80" y2="522.42" stroke="#1a1a1a" stroke-width="1"/>
<text x="695.90" y="526.72" font-size="10.20" stroke="#000" stroke-width="0.18" textLength="24.43" lengthAdjust="spacingAndGlyphs">6000</text>
<line x1="688.50" y1="485.25" x2="691.80" y2="485.25" stroke="#1a1a1a" stroke-width="1"/>
<text x="695.90" y="489.55" font-size="10.20" stroke="#000" stroke-width="0.18" textLength="24.43" lengthAdjust="spacingAndGlyphs">7500</text>
<line x1="688.50" y1="448.08" x2="691.80" y2="448.08" stroke="#1a1a1a" stroke-width="1"/>
<text x="695.90" y="452.38" font-size="10.20" stroke="#000" stroke-width="0.18" textLength="24.43" lengthAdjust="spacingAndGlyphs">9000</text>
<text x="5.60" y="11.70" font-size="16.30" font-weight="bold" stroke="#000" stroke-width="0.22" textLength="12.07" lengthAdjust="spacingAndGlyphs">A</text>
<text x="380.90" y="11.70" font-size="16.30" font-weight="bold" stroke="#000" stroke-width="0.22" textLength="11.89" lengthAdjust="spacingAndGlyphs">B</text>
<text x="5.10" y="404.80" font-size="16.30" font-weight="bold" stroke="#000" stroke-width="0.22" textLength="11.45" lengthAdjust="spacingAndGlyphs">C</text>
<text x="381.60" y="404.90" font-size="16.30" font-weight="bold" stroke="#000" stroke-width="0.22" textLength="12.95" lengthAdjust="spacingAndGlyphs">D</text>
<text x="205.00" y="522.80" font-size="10.20" stroke="#000" stroke-width="0.18" textLength="54.05" lengthAdjust="spacingAndGlyphs">Occupancy</text>
<text x="205.00" y="533.50" font-size="10.20" stroke="#000" stroke-width="0.18" textLength="20.84" lengthAdjust="spacingAndGlyphs">goal</text>
<path d="M201.80 532.40 L174.70 538.30 M179.12 535.09 L174.70 538.30 L180.05 539.39" fill="none" stroke="#000" stroke-width="1.1" stroke-linejoin="miter"/>
<text x="578.20" y="522.60" font-size="10.20" stroke="#000" stroke-width="0.18" textLength="66.40" lengthAdjust="spacingAndGlyphs">Total ICU bed</text>
<text x="578.20" y="533.30" font-size="10.20" stroke="#000" stroke-width="0.18" textLength="41.16" lengthAdjust="spacingAndGlyphs">capacity</text>
<path d="M575.00 531.70 L539.20 538.30 M543.72 535.23 L539.20 538.30 L544.52 539.56" fill="none" stroke="#000" stroke-width="1.1" stroke-linejoin="miter"/>
</svg></body></html>
